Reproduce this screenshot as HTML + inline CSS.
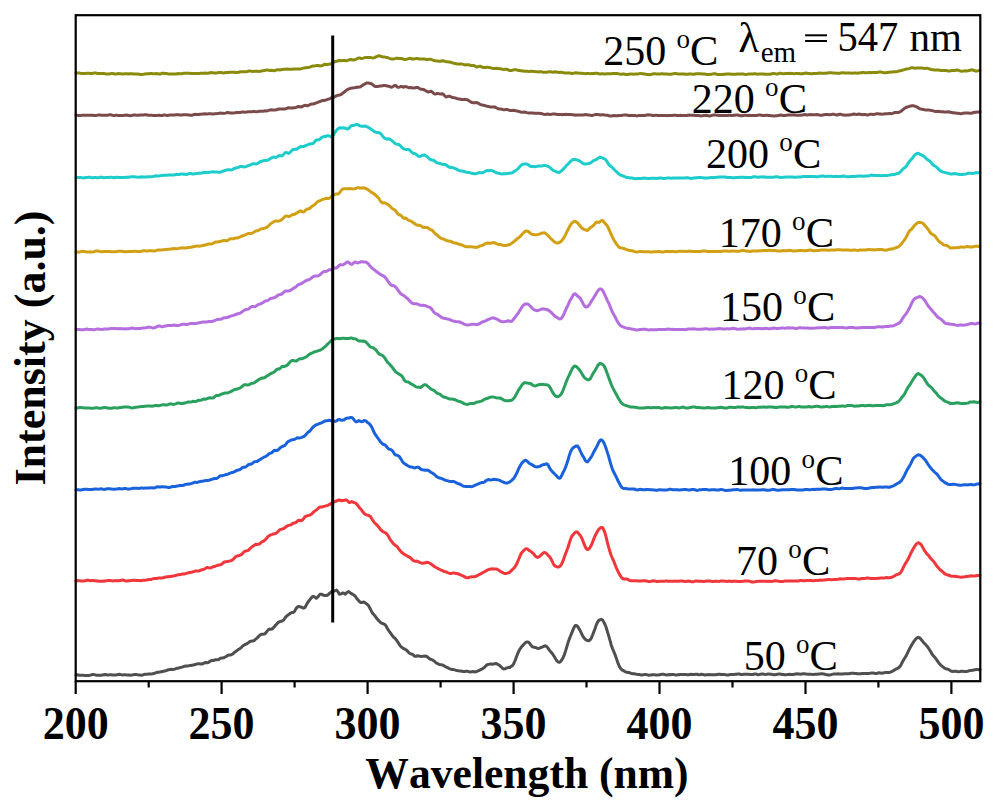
<!DOCTYPE html>
<html><head><meta charset="utf-8"><style>
html,body{margin:0;padding:0;background:#fff;}
svg{display:block;}
text{font-family:"Liberation Serif",serif;}
</style></head><body>
<svg width="993" height="803" viewBox="0 0 993 803">
<rect width="993" height="803" fill="#fff"/>
<g fill="none" stroke-width="3" stroke-linejoin="round" stroke-linecap="round">
<path d="M76.0,73.2 L77.2,73.1 L78.4,73.0 L79.7,73.1 L80.9,73.4 L82.1,73.6 L83.3,73.6 L84.5,73.6 L85.7,73.5 L87.0,73.3 L88.2,73.2 L89.4,73.3 L90.6,73.5 L91.8,73.5 L93.0,73.2 L94.3,72.9 L95.5,72.9 L96.7,73.2 L97.9,73.4 L99.1,73.6 L100.3,73.6 L101.6,73.6 L102.8,73.6 L104.0,73.6 L105.2,73.8 L106.4,73.9 L107.6,74.1 L108.9,74.1 L110.1,73.8 L111.3,73.6 L112.5,73.5 L113.7,73.7 L114.9,73.9 L116.2,73.9 L117.4,73.8 L118.6,73.6 L119.8,73.7 L121.0,73.8 L122.2,73.9 L123.5,73.9 L124.7,73.8 L125.9,73.8 L127.1,73.8 L128.3,73.9 L129.5,73.8 L130.8,73.7 L132.0,73.7 L133.2,73.9 L134.4,73.9 L135.6,73.9 L136.8,73.9 L138.1,73.9 L139.3,74.2 L140.5,74.4 L141.7,74.4 L142.9,74.4 L144.2,74.1 L145.4,73.9 L146.6,73.8 L147.8,73.8 L149.1,73.8 L150.3,73.6 L151.5,73.5 L152.7,73.7 L153.9,73.8 L155.2,73.7 L156.4,73.5 L157.6,73.7 L158.8,74.1 L160.1,74.1 L161.3,73.6 L162.5,73.2 L163.7,73.3 L164.9,73.5 L166.2,73.6 L167.4,73.8 L168.6,74.0 L169.8,74.0 L171.1,73.9 L172.3,74.0 L173.5,74.1 L174.7,74.1 L176.0,74.0 L177.2,73.7 L178.4,73.6 L179.6,73.7 L180.8,73.8 L182.1,73.7 L183.3,73.3 L184.5,73.2 L185.7,73.2 L187.0,73.3 L188.2,73.3 L189.4,73.3 L190.6,73.5 L191.8,73.5 L193.1,73.6 L194.3,73.5 L195.5,73.4 L196.7,73.4 L198.0,73.5 L199.2,73.4 L200.4,73.3 L201.6,73.2 L202.8,73.2 L204.1,73.2 L205.3,73.1 L206.5,73.2 L207.7,73.3 L208.9,73.1 L210.2,72.8 L211.4,72.6 L212.6,72.7 L213.8,72.9 L215.1,72.9 L216.3,72.9 L217.5,72.8 L218.7,72.5 L219.9,72.5 L221.2,72.5 L222.4,72.8 L223.6,72.9 L224.8,72.7 L226.0,72.6 L227.3,72.5 L228.5,72.4 L229.7,72.3 L230.9,72.3 L232.2,72.3 L233.4,72.3 L234.6,72.3 L235.8,72.4 L237.0,72.5 L238.3,72.3 L239.5,72.0 L240.7,71.7 L241.9,71.7 L243.1,71.8 L244.4,71.8 L245.6,71.8 L246.8,71.7 L248.0,71.3 L249.2,71.0 L250.5,71.1 L251.7,71.4 L252.9,71.4 L254.1,71.3 L255.4,71.3 L256.6,71.2 L257.8,71.3 L259.0,71.4 L260.2,71.3 L261.5,71.1 L262.7,70.7 L263.9,70.6 L265.1,70.4 L266.3,70.1 L267.6,70.1 L268.8,70.3 L270.0,70.4 L271.2,70.3 L272.5,70.4 L273.7,70.7 L274.9,70.5 L276.1,70.1 L277.3,69.8 L278.6,69.7 L279.8,70.0 L281.0,69.8 L282.3,69.6 L283.5,69.3 L284.8,69.3 L286.0,69.3 L287.3,69.1 L288.5,69.2 L289.8,69.3 L291.1,69.3 L292.3,69.2 L293.6,69.1 L294.8,69.0 L296.1,68.9 L297.3,69.0 L298.6,68.9 L299.8,68.9 L301.1,68.7 L302.4,68.4 L303.6,68.1 L304.9,67.8 L306.1,67.7 L307.4,67.5 L308.7,67.4 L309.9,67.1 L311.2,66.5 L312.5,66.1 L313.7,66.0 L315.0,65.9 L316.2,65.6 L317.5,65.4 L318.8,65.6 L320.0,66.0 L321.3,65.8 L322.6,65.3 L323.8,64.7 L325.1,64.3 L326.3,64.5 L327.6,64.4 L328.8,64.3 L330.1,64.0 L331.3,63.7 L332.6,62.9 L334.0,62.0 L335.4,61.5 L336.7,61.2 L338.0,60.8 L339.4,60.5 L340.7,60.7 L341.9,60.6 L343.2,60.4 L344.5,60.4 L345.7,60.7 L347.0,60.7 L348.3,60.2 L349.5,59.7 L350.8,59.6 L352.1,59.7 L353.4,59.9 L354.6,59.8 L355.9,59.3 L357.2,58.6 L358.4,58.0 L359.7,58.0 L360.9,58.4 L362.2,58.4 L363.4,58.1 L364.6,57.7 L365.9,57.6 L367.1,57.6 L368.4,57.5 L369.6,57.5 L370.9,57.6 L372.1,57.9 L373.4,57.9 L374.6,57.6 L375.9,56.9 L377.1,56.3 L378.4,55.8 L379.6,55.8 L380.9,56.3 L382.2,56.7 L383.6,57.0 L384.9,57.1 L386.2,57.4 L387.5,57.6 L388.9,58.2 L390.2,58.7 L391.5,59.0 L392.7,59.0 L393.9,58.9 L395.1,58.6 L396.4,58.2 L397.6,58.2 L398.8,58.4 L400.0,58.4 L401.2,58.5 L402.4,58.8 L403.6,59.3 L404.8,59.4 L406.1,59.4 L407.3,59.1 L408.5,58.7 L409.7,58.3 L410.9,58.5 L412.1,59.0 L413.3,59.1 L414.5,58.9 L415.8,58.6 L417.0,58.6 L418.2,58.7 L419.4,59.0 L420.6,59.0 L421.8,58.9 L423.1,59.1 L424.3,59.0 L425.5,59.2 L426.7,59.4 L427.9,59.5 L429.2,59.3 L430.4,59.2 L431.6,59.6 L432.8,60.1 L434.1,60.5 L435.3,60.8 L436.5,61.0 L437.7,61.1 L438.9,61.2 L440.2,61.3 L441.4,61.0 L442.6,60.7 L443.8,60.9 L445.0,61.4 L446.3,61.7 L447.5,61.8 L448.7,61.9 L449.9,62.0 L451.1,62.4 L452.4,62.8 L453.6,63.2 L454.8,63.4 L456.0,63.7 L457.2,64.0 L458.5,64.1 L459.7,64.0 L460.9,64.1 L462.1,64.1 L463.4,64.4 L464.6,64.8 L465.8,64.9 L467.0,64.8 L468.3,64.7 L469.5,65.0 L470.7,65.4 L472.0,65.6 L473.2,65.5 L474.4,65.8 L475.6,66.5 L476.9,67.0 L478.1,66.7 L479.3,66.3 L480.5,66.3 L481.8,66.9 L483.0,67.5 L484.2,67.6 L485.5,67.5 L486.7,67.3 L487.9,67.3 L489.1,67.6 L490.4,67.8 L491.6,68.1 L492.8,68.4 L494.1,68.6 L495.3,68.5 L496.5,68.2 L497.7,68.4 L499.0,68.7 L500.2,68.7 L501.4,68.9 L502.7,69.3 L503.9,69.6 L505.1,69.3 L506.3,69.2 L507.6,69.6 L508.8,70.2 L510.0,70.5 L511.3,70.4 L512.5,70.2 L513.7,69.8 L514.9,69.7 L516.2,69.8 L517.4,70.1 L518.6,70.5 L519.9,70.6 L521.1,70.7 L522.3,70.9 L523.5,71.1 L524.8,71.3 L526.0,71.3 L527.2,71.3 L528.4,71.4 L529.7,71.4 L530.9,71.3 L532.1,71.3 L533.4,71.4 L534.6,71.6 L535.8,71.7 L537.0,71.8 L538.3,71.9 L539.5,71.8 L540.7,71.8 L541.9,71.9 L543.1,72.2 L544.3,72.3 L545.6,72.3 L546.8,72.2 L548.0,71.9 L549.2,71.8 L550.4,71.8 L551.6,72.1 L552.8,72.2 L554.0,72.0 L555.3,71.8 L556.5,71.9 L557.7,72.3 L558.9,72.5 L560.1,72.3 L561.3,72.2 L562.5,72.5 L563.7,72.7 L565.0,72.9 L566.2,73.0 L567.4,73.1 L568.6,73.0 L569.8,73.0 L571.0,73.2 L572.2,73.4 L573.4,73.2 L574.7,72.9 L575.9,72.8 L577.1,72.9 L578.3,73.1 L579.5,73.2 L580.7,73.3 L581.9,73.3 L583.1,73.4 L584.4,73.6 L585.6,73.7 L586.8,73.5 L588.0,73.4 L589.2,73.6 L590.4,73.7 L591.7,73.6 L592.9,73.6 L594.1,73.5 L595.4,73.3 L596.6,73.3 L597.9,73.5 L599.1,73.8 L600.3,73.9 L601.6,73.8 L602.8,73.8 L604.0,73.9 L605.3,73.9 L606.5,73.8 L607.7,73.8 L609.0,73.8 L610.2,73.7 L611.5,73.7 L612.7,73.6 L613.9,73.6 L615.2,73.5 L616.4,73.5 L617.6,73.6 L618.9,73.9 L620.1,74.2 L621.3,74.2 L622.6,74.0 L623.8,74.0 L625.1,74.3 L626.3,74.5 L627.5,74.5 L628.8,74.3 L630.0,74.0 L631.2,73.9 L632.4,74.1 L633.6,74.2 L634.8,74.1 L636.0,74.0 L637.2,74.0 L638.4,73.9 L639.6,73.6 L640.8,73.6 L642.0,73.7 L643.2,73.8 L644.5,74.0 L645.7,74.2 L646.9,74.4 L648.1,74.5 L649.3,74.7 L650.5,74.6 L651.7,74.2 L652.9,73.9 L654.1,73.8 L655.3,73.8 L656.5,73.9 L657.7,74.1 L658.9,74.1 L660.1,73.9 L661.3,73.8 L662.5,73.8 L663.7,74.0 L664.9,74.1 L666.1,74.0 L667.3,74.1 L668.5,74.2 L669.8,74.3 L671.0,74.2 L672.2,74.1 L673.4,73.8 L674.6,73.6 L675.8,73.6 L677.0,73.7 L678.2,73.9 L679.4,74.0 L680.6,74.0 L681.8,74.0 L683.0,73.9 L684.2,74.0 L685.4,74.2 L686.6,74.3 L687.8,74.2 L689.0,74.0 L690.2,74.0 L691.4,74.1 L692.6,74.2 L693.8,74.2 L695.0,74.0 L696.2,73.8 L697.5,73.7 L698.7,73.7 L699.9,73.8 L701.1,73.8 L702.3,73.9 L703.5,74.1 L704.7,74.1 L705.9,74.3 L707.1,74.4 L708.3,74.4 L709.5,74.4 L710.7,74.3 L711.9,74.2 L713.1,73.8 L714.3,73.7 L715.5,73.8 L716.7,74.3 L717.9,74.6 L719.1,74.6 L720.3,74.5 L721.5,74.5 L722.8,74.4 L724.0,74.3 L725.2,74.2 L726.4,74.0 L727.6,74.0 L728.8,74.0 L730.0,74.0 L731.2,74.2 L732.4,74.3 L733.6,74.3 L734.8,74.2 L736.0,74.2 L737.2,74.1 L738.4,74.0 L739.6,73.9 L740.8,74.1 L742.0,74.1 L743.2,74.1 L744.4,74.3 L745.6,74.4 L746.9,74.4 L748.1,74.1 L749.3,74.0 L750.5,74.1 L751.7,74.1 L752.9,74.0 L754.1,73.8 L755.3,73.8 L756.5,74.0 L757.7,74.2 L758.9,74.1 L760.1,73.9 L761.3,73.9 L762.5,74.0 L763.7,74.1 L764.9,74.2 L766.1,74.2 L767.3,74.2 L768.6,74.2 L769.8,74.2 L771.0,74.0 L772.2,73.8 L773.4,73.6 L774.6,73.6 L775.8,73.9 L777.0,74.0 L778.2,73.8 L779.4,73.3 L780.6,73.2 L781.8,73.5 L783.0,73.7 L784.2,73.7 L785.4,73.6 L786.6,73.5 L787.8,73.4 L789.0,73.4 L790.3,73.3 L791.5,73.4 L792.7,73.6 L793.9,73.7 L795.1,73.6 L796.3,73.4 L797.5,73.4 L798.7,73.5 L799.9,73.8 L801.1,73.8 L802.3,73.7 L803.5,73.4 L804.7,73.2 L805.9,73.1 L807.1,73.2 L808.3,73.4 L809.5,73.6 L810.8,73.8 L812.0,73.8 L813.2,73.6 L814.4,73.6 L815.6,73.6 L816.8,73.4 L818.0,73.2 L819.2,73.1 L820.4,73.3 L821.6,73.3 L822.8,73.3 L824.0,73.3 L825.2,73.3 L826.4,73.2 L827.6,73.0 L828.8,72.8 L830.0,72.8 L831.2,72.8 L832.5,72.9 L833.7,72.9 L834.9,73.1 L836.1,73.2 L837.3,73.3 L838.5,73.3 L839.7,73.2 L840.9,73.0 L842.1,72.8 L843.3,72.8 L844.5,72.9 L845.7,72.9 L846.9,72.9 L848.1,72.9 L849.3,72.9 L850.5,73.1 L851.7,73.2 L852.9,73.1 L854.1,72.9 L855.4,72.9 L856.6,73.1 L857.8,73.2 L859.0,73.1 L860.2,72.8 L861.4,72.7 L862.6,72.5 L863.8,72.6 L865.0,72.7 L866.2,72.8 L867.4,72.7 L868.6,72.6 L869.8,72.6 L871.0,72.8 L872.2,72.6 L873.4,72.4 L874.6,72.4 L875.8,72.6 L877.0,72.5 L878.2,72.2 L879.4,71.9 L880.6,71.9 L881.9,72.3 L883.1,72.6 L884.3,72.7 L885.5,72.7 L886.7,72.6 L887.9,72.4 L889.1,72.2 L890.3,72.1 L891.5,72.1 L892.7,71.9 L893.9,71.7 L895.1,71.7 L896.4,71.7 L897.6,71.4 L898.9,71.0 L900.2,70.7 L901.4,70.5 L902.7,70.1 L904.0,69.7 L905.2,69.3 L906.5,69.1 L907.7,68.9 L909.0,68.6 L910.3,68.1 L911.5,67.7 L912.8,67.7 L914.1,68.0 L915.4,68.2 L916.8,68.1 L918.1,68.0 L919.4,67.9 L920.8,67.9 L922.1,67.9 L923.4,68.2 L924.7,68.4 L925.9,68.3 L927.2,68.3 L928.5,68.6 L929.7,69.0 L931.0,69.5 L932.2,69.7 L933.5,69.8 L934.8,70.0 L936.0,70.0 L937.3,70.0 L938.6,70.0 L939.8,70.3 L941.1,70.6 L942.3,70.6 L943.5,70.5 L944.7,70.5 L946.0,70.6 L947.2,70.7 L948.4,70.9 L949.6,70.9 L950.8,70.7 L952.0,70.6 L953.3,70.6 L954.5,70.6 L955.7,70.3 L956.9,70.0 L958.1,70.2 L959.3,70.6 L960.5,71.0 L961.8,71.2 L963.0,71.1 L964.2,70.9 L965.4,70.8 L966.6,70.9 L967.8,70.8 L969.1,70.6 L970.3,70.1 L971.5,69.8 L972.7,70.0 L973.9,70.4 L975.1,70.9 L976.4,71.0 L977.6,70.9 L978.8,70.6 L980.0,70.5" stroke="#8a8a0c"/>
<path d="M76.0,115.2 L77.2,115.3 L78.4,115.4 L79.6,115.4 L80.8,115.4 L82.0,115.3 L83.2,115.2 L84.4,115.2 L85.6,115.3 L86.9,115.3 L88.1,115.3 L89.3,115.3 L90.5,115.2 L91.7,115.2 L92.9,115.2 L94.1,115.4 L95.3,115.5 L96.5,115.4 L97.7,115.1 L98.9,115.0 L100.1,115.1 L101.3,115.2 L102.5,115.2 L103.7,115.2 L104.9,115.3 L106.1,115.3 L107.4,115.2 L108.6,115.0 L109.8,114.8 L111.0,114.8 L112.2,115.2 L113.4,115.4 L114.6,115.4 L115.8,115.3 L117.0,115.3 L118.2,115.4 L119.4,115.5 L120.6,115.5 L121.8,115.6 L123.0,115.4 L124.2,115.3 L125.4,115.2 L126.6,115.1 L127.8,115.3 L129.1,115.5 L130.3,115.7 L131.5,115.5 L132.7,115.2 L133.9,115.0 L135.1,115.1 L136.3,115.2 L137.5,115.2 L138.7,115.3 L139.9,115.1 L141.1,115.0 L142.3,115.0 L143.5,114.9 L144.7,114.8 L145.9,114.8 L147.1,115.0 L148.3,115.2 L149.6,115.2 L150.8,115.2 L152.0,115.3 L153.2,115.4 L154.4,115.5 L155.6,115.4 L156.8,115.4 L158.0,115.3 L159.2,115.3 L160.4,115.5 L161.6,115.6 L162.8,115.4 L164.0,115.0 L165.2,115.1 L166.4,115.4 L167.6,115.4 L168.8,115.2 L170.1,115.0 L171.3,115.0 L172.5,115.1 L173.7,115.0 L174.9,114.9 L176.1,114.7 L177.3,114.7 L178.5,114.7 L179.7,114.9 L180.9,115.0 L182.1,114.9 L183.3,114.8 L184.5,114.8 L185.7,114.8 L186.9,114.8 L188.1,114.9 L189.3,115.1 L190.5,115.3 L191.7,115.3 L192.9,115.0 L194.1,114.4 L195.3,114.3 L196.5,114.4 L197.7,114.5 L198.9,114.5 L200.1,114.3 L201.4,114.2 L202.6,114.1 L203.8,114.0 L205.0,113.8 L206.2,113.9 L207.4,113.9 L208.6,113.8 L209.8,113.7 L211.0,113.8 L212.2,113.9 L213.4,113.9 L214.6,113.8 L215.8,113.7 L217.0,113.6 L218.2,113.4 L219.4,113.3 L220.6,113.1 L221.8,113.2 L223.0,113.3 L224.2,113.4 L225.4,113.1 L226.6,112.7 L227.8,112.5 L229.1,112.7 L230.3,113.0 L231.5,113.0 L232.7,112.9 L233.9,112.9 L235.1,112.8 L236.3,112.6 L237.5,112.5 L238.7,112.5 L239.9,112.5 L241.1,112.3 L242.3,112.1 L243.6,112.1 L244.8,112.2 L246.0,112.1 L247.2,111.9 L248.4,111.8 L249.6,111.8 L250.8,111.8 L252.0,111.7 L253.2,111.6 L254.4,111.6 L255.6,111.7 L256.8,111.7 L258.0,111.5 L259.3,111.2 L260.5,111.2 L261.7,111.3 L262.9,111.3 L264.1,111.1 L265.3,110.8 L266.5,110.9 L267.7,110.7 L268.9,110.3 L270.1,109.9 L271.3,109.8 L272.5,110.0 L273.8,110.0 L275.0,110.0 L276.2,109.8 L277.4,109.5 L278.6,109.0 L279.8,109.0 L281.0,109.0 L282.3,108.9 L283.5,109.0 L284.8,108.9 L286.0,108.7 L287.3,108.1 L288.5,107.7 L289.8,107.9 L291.1,108.1 L292.3,108.0 L293.6,107.8 L294.8,107.8 L296.1,107.4 L297.3,106.8 L298.6,106.5 L299.8,106.7 L301.1,107.0 L302.4,106.5 L303.7,105.7 L304.9,105.3 L306.2,105.6 L307.5,105.8 L308.8,105.2 L310.1,104.5 L311.4,104.1 L312.6,103.9 L313.9,103.7 L315.2,103.3 L316.4,102.8 L317.7,102.4 L318.9,101.9 L320.2,101.5 L321.4,100.9 L322.6,100.5 L323.9,100.4 L325.1,100.3 L326.3,99.9 L327.6,99.4 L328.8,99.1 L330.1,98.5 L331.3,98.0 L332.6,97.7 L334.0,97.4 L335.4,96.4 L336.7,95.6 L338.0,95.3 L339.4,95.2 L340.7,94.7 L342.0,93.7 L343.3,92.8 L344.6,91.8 L345.8,90.7 L347.1,89.8 L348.4,89.1 L349.7,88.5 L351.0,88.2 L352.6,87.9 L354.1,87.8 L355.7,87.5 L356.9,87.1 L358.2,87.2 L359.4,87.1 L360.7,86.7 L361.9,85.7 L363.1,84.9 L364.4,84.2 L365.6,83.4 L366.9,82.9 L368.1,82.9 L369.4,83.2 L370.6,83.4 L372.0,84.1 L373.4,85.2 L374.8,86.2 L376.2,86.6 L377.6,86.5 L378.8,86.2 L380.0,86.1 L381.2,86.1 L382.5,85.8 L383.7,85.5 L384.9,85.6 L386.1,85.8 L387.3,86.0 L388.6,86.2 L389.8,86.5 L391.0,87.2 L392.2,87.0 L393.4,86.3 L394.6,85.5 L395.9,85.5 L397.1,86.9 L398.3,87.4 L399.5,87.1 L400.7,86.5 L402.0,86.6 L403.2,87.2 L404.5,86.8 L405.7,86.6 L407.0,86.9 L408.2,87.5 L409.4,87.8 L410.7,87.6 L411.9,87.7 L413.2,87.9 L414.4,88.0 L415.7,87.6 L416.9,87.4 L418.2,87.6 L419.4,88.6 L420.7,89.2 L421.9,89.3 L423.2,89.5 L424.5,90.0 L425.8,90.8 L427.0,91.6 L428.3,92.1 L429.6,91.6 L430.9,91.2 L432.1,91.8 L433.4,93.2 L434.7,94.0 L435.9,93.9 L437.2,93.5 L438.4,93.6 L439.7,93.9 L440.9,93.9 L442.2,93.7 L443.4,94.3 L444.7,95.9 L445.9,96.9 L447.2,96.7 L448.4,96.2 L449.7,96.2 L450.9,96.8 L452.2,97.4 L453.4,97.6 L454.7,97.9 L455.9,98.1 L457.2,98.6 L458.4,98.9 L459.7,99.0 L460.9,99.4 L462.1,99.6 L463.4,99.6 L464.6,99.3 L465.9,99.4 L467.1,99.7 L468.4,100.4 L469.6,101.3 L470.9,102.0 L472.1,102.5 L473.4,102.7 L474.6,102.7 L475.9,102.6 L477.1,102.7 L478.4,103.3 L479.6,104.1 L480.9,104.7 L482.1,104.9 L483.4,105.2 L484.6,105.5 L485.9,105.9 L487.1,106.3 L488.3,106.5 L489.6,106.8 L490.8,107.0 L492.1,107.1 L493.3,107.0 L494.6,107.0 L495.8,107.5 L497.1,108.2 L498.3,108.8 L499.6,109.0 L500.8,109.1 L502.1,109.3 L503.3,109.7 L504.6,109.7 L505.8,109.5 L507.1,109.5 L508.3,109.9 L509.6,110.4 L510.8,110.5 L512.1,110.4 L513.3,110.3 L514.5,110.4 L515.8,110.7 L517.0,111.1 L518.2,111.3 L519.4,111.6 L520.7,112.0 L521.9,112.3 L523.1,112.2 L524.4,112.1 L525.6,112.2 L526.8,112.6 L528.0,112.9 L529.3,113.0 L530.5,113.0 L531.7,113.0 L533.0,113.0 L534.2,113.2 L535.4,113.3 L536.6,113.3 L537.9,113.2 L539.1,113.3 L540.3,113.5 L541.5,113.6 L542.8,114.0 L544.0,114.3 L545.2,114.5 L546.5,114.2 L547.7,114.1 L548.9,114.2 L550.1,114.4 L551.4,114.3 L552.6,114.1 L553.8,114.1 L555.0,114.1 L556.3,114.3 L557.5,114.5 L558.7,114.6 L559.9,114.6 L561.1,114.6 L562.4,114.7 L563.6,114.5 L564.8,114.4 L566.0,114.3 L567.2,114.4 L568.5,114.4 L569.7,114.5 L570.9,114.6 L572.1,114.7 L573.3,114.8 L574.6,115.0 L575.8,115.2 L577.0,115.1 L578.2,115.0 L579.4,115.0 L580.7,115.0 L581.9,115.1 L583.1,114.9 L584.3,114.7 L585.5,114.6 L586.8,114.8 L588.0,115.0 L589.2,115.0 L590.4,115.3 L591.7,115.4 L592.9,115.2 L594.1,114.9 L595.4,114.5 L596.6,114.4 L597.9,114.5 L599.1,114.7 L600.3,114.9 L601.6,114.8 L602.8,114.7 L604.0,114.9 L605.3,115.1 L606.5,115.2 L607.7,115.3 L609.0,115.7 L610.2,115.9 L611.5,115.9 L612.7,115.7 L613.9,115.6 L615.2,115.8 L616.4,115.8 L617.6,115.7 L618.9,115.5 L620.1,115.5 L621.3,115.4 L622.6,115.2 L623.8,115.1 L625.1,114.9 L626.3,115.1 L627.5,115.3 L628.8,115.5 L630.0,115.5 L631.2,115.5 L632.4,115.5 L633.6,115.5 L634.8,115.5 L636.0,115.8 L637.2,115.9 L638.4,115.6 L639.6,115.5 L640.8,115.5 L642.0,115.6 L643.2,115.6 L644.5,115.5 L645.7,115.2 L646.9,115.0 L648.1,114.8 L649.3,115.0 L650.5,115.1 L651.7,115.3 L652.9,115.5 L654.1,115.4 L655.3,115.3 L656.5,115.3 L657.7,115.5 L658.9,115.6 L660.1,115.6 L661.3,115.5 L662.5,115.6 L663.7,115.6 L664.9,115.6 L666.1,115.6 L667.3,115.7 L668.5,115.5 L669.8,115.4 L671.0,115.5 L672.2,115.4 L673.4,115.3 L674.6,115.2 L675.8,115.3 L677.0,115.5 L678.2,115.4 L679.4,115.4 L680.6,115.3 L681.8,115.4 L683.0,115.4 L684.2,115.4 L685.4,115.4 L686.6,115.5 L687.8,115.3 L689.0,115.1 L690.2,115.2 L691.4,115.2 L692.6,115.2 L693.8,115.2 L695.0,115.4 L696.2,115.6 L697.5,115.6 L698.7,115.5 L699.9,115.7 L701.1,115.9 L702.3,115.8 L703.5,115.6 L704.7,115.4 L705.9,115.3 L707.1,115.4 L708.3,115.7 L709.5,115.9 L710.7,115.8 L711.9,115.4 L713.1,115.1 L714.3,114.9 L715.5,115.0 L716.7,115.2 L717.9,115.3 L719.1,115.5 L720.3,115.5 L721.5,115.4 L722.8,115.4 L724.0,115.5 L725.2,115.6 L726.4,115.6 L727.6,115.4 L728.8,115.2 L730.0,115.3 L731.2,115.6 L732.4,115.6 L733.6,115.3 L734.8,115.2 L736.0,115.1 L737.2,115.1 L738.4,115.2 L739.6,115.4 L740.8,115.8 L742.0,115.8 L743.2,115.5 L744.4,115.2 L745.6,115.3 L746.9,115.5 L748.1,115.5 L749.3,115.3 L750.5,115.4 L751.7,115.6 L752.9,115.6 L754.1,115.5 L755.3,115.4 L756.5,115.5 L757.7,115.3 L758.9,115.1 L760.1,115.1 L761.3,115.3 L762.5,115.5 L763.7,115.5 L764.9,115.4 L766.1,115.3 L767.3,115.3 L768.6,115.5 L769.8,115.6 L771.0,115.7 L772.2,115.8 L773.4,115.9 L774.6,115.9 L775.8,115.8 L777.0,115.7 L778.2,115.6 L779.4,115.3 L780.6,115.1 L781.8,115.3 L783.0,115.5 L784.2,115.6 L785.4,115.5 L786.6,115.3 L787.8,115.1 L789.0,115.1 L790.3,115.1 L791.5,115.1 L792.7,115.0 L793.9,114.8 L795.1,114.9 L796.3,115.2 L797.5,115.3 L798.7,115.2 L799.9,115.2 L801.1,115.2 L802.3,115.1 L803.5,114.8 L804.7,114.6 L805.9,114.8 L807.1,114.9 L808.3,114.8 L809.5,114.7 L810.8,114.6 L812.0,114.7 L813.2,114.8 L814.4,114.8 L815.6,114.7 L816.8,114.6 L818.0,114.8 L819.2,115.1 L820.4,115.3 L821.6,115.3 L822.8,115.0 L824.0,114.7 L825.2,114.5 L826.4,114.5 L827.6,114.6 L828.8,114.7 L830.0,114.7 L831.2,114.6 L832.5,114.3 L833.7,114.3 L834.9,114.6 L836.1,114.9 L837.3,115.0 L838.5,114.5 L839.7,114.2 L840.9,114.3 L842.1,114.7 L843.3,115.0 L844.5,115.1 L845.7,115.2 L846.9,115.1 L848.1,114.9 L849.3,114.9 L850.5,114.7 L851.7,114.5 L852.9,114.2 L854.1,114.1 L855.4,114.3 L856.6,114.4 L857.8,114.2 L859.0,114.1 L860.2,114.2 L861.4,114.6 L862.6,114.7 L863.8,114.5 L865.0,114.6 L866.2,114.8 L867.4,115.0 L868.6,114.7 L869.8,114.3 L871.0,114.2 L872.2,114.3 L873.4,114.4 L874.6,114.2 L875.8,113.9 L877.0,113.8 L878.2,113.8 L879.4,113.9 L880.6,114.0 L881.9,114.2 L883.1,114.1 L884.3,113.9 L885.5,113.7 L886.7,113.7 L887.9,113.7 L889.1,113.5 L890.3,113.6 L891.5,113.7 L892.7,113.4 L893.9,112.8 L895.1,112.5 L896.3,112.5 L897.5,112.6 L898.7,112.4 L900.0,111.8 L901.2,111.1 L902.4,110.1 L903.6,109.1 L904.8,108.1 L906.0,107.5 L907.2,107.0 L908.5,106.6 L909.7,106.2 L910.9,106.0 L912.1,105.8 L913.4,105.8 L914.6,106.1 L915.9,106.5 L917.1,107.1 L918.4,107.9 L919.6,108.6 L920.9,109.1 L922.1,109.3 L923.4,109.5 L924.6,109.8 L925.9,109.9 L927.1,109.9 L928.3,110.0 L929.6,110.1 L930.8,110.4 L932.0,110.6 L933.3,110.9 L934.5,111.2 L935.8,111.4 L937.0,111.4 L938.2,111.3 L939.5,111.5 L940.7,111.7 L941.9,111.7 L943.2,111.8 L944.4,112.0 L945.6,112.1 L946.9,111.9 L948.1,111.8 L949.4,112.0 L950.6,112.3 L951.9,112.6 L953.2,112.8 L954.4,113.0 L955.7,113.1 L957.0,113.2 L958.2,113.3 L959.5,113.5 L960.7,113.7 L962.0,113.5 L963.3,113.2 L964.5,113.0 L965.8,113.1 L967.1,113.1 L968.4,113.1 L969.7,113.3 L971.0,113.3 L972.3,113.0 L973.5,112.5 L974.8,112.2 L976.1,112.2 L977.4,112.1 L978.7,112.0 L980.0,111.9" stroke="#7b4a4a"/>
<path d="M76.0,177.8 L77.2,177.6 L78.4,177.5 L79.7,177.4 L80.9,177.5 L82.1,177.8 L83.3,177.9 L84.6,177.7 L85.8,177.5 L87.0,177.4 L88.2,177.3 L89.5,177.3 L90.7,177.6 L91.9,177.8 L93.1,177.7 L94.4,177.5 L95.6,177.5 L96.8,177.7 L98.0,177.7 L99.3,177.5 L100.5,177.1 L101.7,177.2 L102.9,177.5 L104.1,177.7 L105.4,177.6 L106.6,177.5 L107.8,177.6 L109.0,177.4 L110.3,177.2 L111.5,177.3 L112.7,177.5 L113.9,177.7 L115.2,177.5 L116.4,177.3 L117.6,177.3 L118.8,177.4 L120.1,177.6 L121.3,177.5 L122.5,177.5 L123.7,177.5 L125.0,177.5 L126.2,177.3 L127.4,177.2 L128.6,177.2 L129.8,176.9 L131.0,176.8 L132.2,176.8 L133.4,176.8 L134.6,176.8 L135.8,176.9 L137.0,177.1 L138.2,177.2 L139.4,177.2 L140.6,176.9 L141.8,176.8 L143.0,176.9 L144.2,177.1 L145.4,177.1 L146.6,176.9 L147.8,176.8 L149.0,176.8 L150.2,176.8 L151.4,176.7 L152.6,176.6 L153.9,176.4 L155.1,176.0 L156.3,175.8 L157.5,175.9 L158.7,175.9 L159.9,175.7 L161.1,175.4 L162.3,175.4 L163.5,175.3 L164.7,175.3 L165.9,175.2 L167.1,175.2 L168.3,175.1 L169.5,175.1 L170.7,175.1 L171.9,175.1 L173.1,175.1 L174.3,174.9 L175.5,174.6 L176.7,174.3 L177.9,174.4 L179.1,174.5 L180.3,174.3 L181.5,174.1 L182.7,174.1 L183.9,174.3 L185.1,174.3 L186.3,174.4 L187.5,174.2 L188.8,173.7 L190.0,173.5 L191.2,173.6 L192.4,174.0 L193.6,174.0 L194.8,173.8 L196.0,173.5 L197.2,173.4 L198.4,173.2 L199.6,173.3 L200.8,173.3 L202.0,173.0 L203.3,172.5 L204.5,172.2 L205.7,172.4 L206.9,172.6 L208.1,172.5 L209.3,172.2 L210.5,172.1 L211.8,171.9 L213.0,171.8 L214.3,172.0 L215.5,172.0 L216.8,172.1 L218.0,172.2 L219.3,172.2 L220.6,172.2 L221.8,171.7 L223.1,171.2 L224.3,170.7 L225.6,170.3 L226.8,170.0 L228.1,169.7 L229.3,169.8 L230.6,169.9 L231.9,169.8 L233.1,169.1 L234.4,168.4 L235.7,168.0 L236.9,167.8 L238.2,167.4 L239.4,166.8 L240.7,166.4 L242.0,166.4 L243.2,166.8 L244.5,167.0 L245.8,166.6 L247.0,166.1 L248.3,165.6 L249.5,165.3 L250.8,164.7 L252.1,164.0 L253.3,163.8 L254.6,163.8 L255.8,164.0 L257.1,163.7 L258.3,162.9 L259.6,162.0 L260.9,161.5 L262.1,161.1 L263.4,160.7 L264.6,160.5 L265.9,160.6 L267.1,160.5 L268.4,159.8 L269.6,159.1 L270.9,158.3 L272.2,157.6 L273.4,157.0 L274.7,157.3 L275.9,157.5 L277.2,156.8 L278.5,155.7 L279.7,155.5 L281.0,155.9 L282.3,155.8 L283.5,154.5 L284.8,152.9 L286.1,152.4 L287.3,153.0 L288.6,153.4 L289.8,152.6 L291.1,151.3 L292.4,150.0 L293.6,149.5 L294.9,149.2 L296.1,149.2 L297.4,148.8 L298.6,147.7 L299.9,147.0 L301.1,146.5 L302.4,146.7 L303.7,146.6 L304.9,145.9 L306.2,145.3 L307.4,144.9 L308.7,144.4 L309.9,144.0 L311.2,143.7 L312.5,143.7 L313.8,142.9 L315.0,141.1 L316.3,140.0 L317.6,139.9 L318.9,139.8 L320.2,138.9 L321.5,137.6 L322.7,137.0 L324.0,136.6 L325.3,136.5 L326.6,136.0 L328.0,135.6 L329.3,136.0 L330.6,136.7 L332.0,136.3 L333.3,134.9 L334.7,132.8 L336.1,130.8 L337.5,129.3 L338.9,128.2 L340.3,127.8 L341.7,127.9 L343.1,127.8 L344.5,127.9 L345.9,128.5 L347.3,129.1 L348.5,128.7 L349.7,127.2 L350.9,126.0 L352.1,125.5 L353.3,125.5 L354.5,125.2 L355.7,124.5 L356.9,124.3 L358.1,124.9 L359.4,125.6 L360.7,126.1 L362.0,126.3 L363.3,126.3 L364.6,126.1 L365.9,126.3 L367.2,126.8 L368.5,127.4 L369.8,128.4 L371.1,129.2 L372.4,130.1 L373.7,131.2 L375.0,132.0 L376.3,132.4 L377.6,132.4 L378.9,132.6 L380.2,133.3 L381.4,134.3 L382.7,136.1 L384.0,137.7 L385.3,138.5 L386.6,139.2 L387.9,138.7 L389.2,138.9 L390.5,139.6 L391.8,140.6 L393.1,141.7 L394.4,142.8 L395.7,143.9 L397.0,144.3 L398.3,144.3 L399.5,145.1 L400.8,146.2 L402.1,147.7 L403.4,148.6 L404.7,149.3 L405.9,149.4 L407.2,149.4 L408.5,149.6 L409.8,150.3 L411.0,151.5 L412.3,152.7 L413.6,153.4 L414.8,153.5 L416.1,154.2 L417.3,155.4 L418.5,156.3 L419.7,156.5 L420.9,156.1 L422.2,155.4 L423.4,155.0 L424.6,155.1 L425.8,155.8 L427.0,156.5 L428.3,157.8 L429.6,159.1 L430.9,159.7 L432.2,160.0 L433.5,160.3 L434.8,161.3 L436.1,162.3 L437.4,162.9 L438.6,163.2 L439.9,163.4 L441.2,163.9 L442.5,164.4 L443.7,164.5 L445.0,164.5 L446.3,165.0 L447.5,166.0 L448.8,167.0 L450.0,167.4 L451.2,167.3 L452.4,167.6 L453.6,168.0 L454.8,168.4 L456.1,168.9 L457.3,169.6 L458.5,170.3 L459.7,170.7 L460.9,170.9 L462.1,171.0 L463.3,171.2 L464.5,171.6 L465.7,172.0 L466.9,172.2 L468.1,172.4 L469.3,172.5 L470.5,172.9 L471.7,173.3 L472.9,173.6 L474.1,173.7 L475.4,173.8 L476.6,173.6 L477.9,173.0 L479.1,172.6 L480.4,172.7 L481.6,172.8 L482.9,172.6 L484.1,172.0 L485.4,171.2 L486.6,170.7 L487.9,170.6 L489.1,170.7 L490.4,170.6 L491.7,170.6 L493.0,171.0 L494.3,171.7 L495.6,172.3 L496.9,172.8 L498.2,173.1 L499.5,173.5 L500.7,173.8 L501.9,173.9 L503.1,173.7 L504.3,173.7 L505.6,173.7 L506.8,173.5 L508.0,173.3 L509.2,173.3 L510.4,173.2 L511.8,172.9 L513.2,172.2 L514.5,171.4 L515.9,170.4 L517.3,169.4 L518.6,168.1 L519.9,166.6 L521.2,165.2 L522.5,164.3 L523.8,163.9 L525.1,164.0 L526.3,164.0 L527.5,164.3 L528.7,165.1 L529.9,166.0 L531.2,166.5 L532.4,166.4 L533.6,166.5 L534.8,166.7 L536.0,166.6 L537.3,166.3 L538.7,166.1 L540.0,166.0 L541.4,165.9 L542.7,165.8 L544.1,165.5 L545.4,165.4 L546.6,165.8 L547.9,166.3 L549.1,166.9 L550.4,167.9 L551.6,169.1 L552.9,170.2 L554.1,170.8 L555.4,171.3 L556.6,171.8 L557.9,172.3 L559.1,172.4 L560.4,171.7 L561.6,170.7 L562.8,169.6 L564.0,168.4 L565.3,167.0 L566.5,165.4 L567.7,164.3 L569.0,163.1 L570.2,161.8 L571.4,160.6 L572.6,159.7 L573.9,159.4 L575.1,159.4 L576.3,159.7 L577.5,160.1 L578.7,160.5 L579.9,161.2 L581.2,162.1 L582.4,163.0 L583.6,163.7 L584.8,164.0 L586.0,164.0 L587.3,163.8 L588.5,163.6 L589.8,163.3 L591.0,162.6 L592.3,161.6 L593.5,160.7 L594.8,160.2 L596.1,159.6 L597.3,158.9 L598.6,157.8 L599.8,157.2 L601.1,157.4 L602.4,158.0 L603.7,158.5 L605.0,159.1 L606.3,160.5 L607.6,162.6 L608.9,164.6 L610.2,165.9 L611.5,166.8 L612.8,168.1 L614.1,169.4 L615.4,170.7 L616.6,171.9 L617.9,173.1 L619.1,174.3 L620.4,175.0 L621.6,175.4 L622.9,175.9 L624.1,176.4 L625.4,177.0 L626.6,177.4 L627.9,177.6 L629.1,177.8 L630.4,178.0 L631.6,178.1 L632.9,178.3 L634.1,178.6 L635.4,178.7 L636.6,178.6 L637.9,178.4 L639.1,178.4 L640.3,178.5 L641.5,178.5 L642.7,178.3 L643.9,178.1 L645.2,178.2 L646.4,178.3 L647.6,178.4 L648.8,178.4 L650.0,178.4 L651.2,178.3 L652.4,178.2 L653.6,178.2 L654.8,178.3 L656.1,178.4 L657.3,178.3 L658.5,178.2 L659.7,178.0 L660.9,178.0 L662.1,178.2 L663.3,178.5 L664.5,178.4 L665.7,178.3 L667.0,178.1 L668.2,178.0 L669.4,177.9 L670.6,178.1 L671.8,178.2 L673.0,178.0 L674.2,177.9 L675.4,178.0 L676.6,178.1 L677.9,178.1 L679.1,178.0 L680.3,177.9 L681.5,177.9 L682.7,177.9 L683.9,177.9 L685.1,177.9 L686.3,177.7 L687.5,177.7 L688.8,177.9 L690.0,178.2 L691.2,178.4 L692.4,178.2 L693.6,178.0 L694.8,177.9 L696.0,177.8 L697.2,177.7 L698.5,177.6 L699.7,177.6 L700.9,177.6 L702.1,177.7 L703.3,177.8 L704.5,178.0 L705.7,178.0 L706.9,178.0 L708.1,177.9 L709.4,177.8 L710.6,177.6 L711.8,177.4 L713.0,177.4 L714.2,177.4 L715.4,177.4 L716.6,177.3 L717.8,177.3 L719.0,177.1 L720.3,176.9 L721.5,176.9 L722.7,177.1 L723.9,177.1 L725.1,177.1 L726.3,177.2 L727.5,177.4 L728.7,177.4 L729.9,177.4 L731.2,177.5 L732.4,177.7 L733.6,177.8 L734.8,177.7 L736.0,177.5 L737.2,177.4 L738.4,177.4 L739.6,177.3 L740.8,177.3 L742.0,177.3 L743.2,177.3 L744.4,177.4 L745.6,177.3 L746.9,177.4 L748.1,177.5 L749.3,177.5 L750.5,177.6 L751.7,177.4 L752.9,177.0 L754.1,176.8 L755.3,176.8 L756.5,177.1 L757.7,177.3 L758.9,177.2 L760.1,177.0 L761.3,176.9 L762.5,176.8 L763.7,176.9 L764.9,177.1 L766.1,177.3 L767.3,177.3 L768.6,177.2 L769.8,177.2 L771.0,177.3 L772.2,177.3 L773.4,177.2 L774.6,176.9 L775.8,176.8 L777.0,176.7 L778.2,177.0 L779.4,177.3 L780.6,177.5 L781.8,177.4 L783.0,177.3 L784.2,177.2 L785.4,177.1 L786.6,177.0 L787.8,177.1 L789.0,177.0 L790.3,176.9 L791.5,176.9 L792.7,177.0 L793.9,177.3 L795.1,177.2 L796.3,177.2 L797.5,177.1 L798.7,177.0 L799.9,177.0 L801.1,176.9 L802.3,176.6 L803.5,176.5 L804.7,176.5 L805.9,176.6 L807.1,176.5 L808.3,176.4 L809.5,176.4 L810.8,176.5 L812.0,176.5 L813.2,176.5 L814.4,176.6 L815.6,176.7 L816.8,176.7 L818.0,176.7 L819.2,176.6 L820.4,176.3 L821.6,176.1 L822.8,176.1 L824.0,176.3 L825.2,176.5 L826.4,176.4 L827.6,176.3 L828.8,176.2 L830.0,176.2 L831.2,176.3 L832.5,176.4 L833.7,176.5 L834.9,176.4 L836.1,176.3 L837.3,176.4 L838.5,176.5 L839.7,176.6 L840.9,176.5 L842.1,176.2 L843.3,176.0 L844.6,176.2 L845.8,176.5 L847.0,176.7 L848.3,176.8 L849.5,176.7 L850.7,176.5 L852.0,176.4 L853.2,176.4 L854.4,176.4 L855.7,176.3 L856.9,176.2 L858.1,176.2 L859.4,176.0 L860.6,176.0 L861.8,176.0 L863.1,176.2 L864.3,176.2 L865.5,175.9 L866.8,175.9 L868.0,176.0 L869.2,175.8 L870.5,175.3 L871.7,175.0 L872.9,175.2 L874.2,175.5 L875.4,175.6 L876.6,175.5 L877.9,175.5 L879.1,175.6 L880.3,175.7 L881.6,175.8 L882.8,175.6 L884.1,175.5 L885.5,175.5 L886.8,175.5 L888.1,175.4 L889.5,175.1 L890.8,174.8 L892.1,174.7 L893.5,174.6 L894.8,174.4 L896.1,173.9 L897.5,173.5 L898.8,173.2 L900.0,172.3 L901.2,170.9 L902.4,169.5 L903.6,168.4 L904.8,167.7 L906.0,166.5 L907.2,164.8 L908.4,162.8 L909.6,161.2 L910.8,159.9 L912.3,158.4 L913.8,156.2 L915.3,154.5 L916.8,153.5 L918.3,153.2 L920.0,154.3 L921.8,155.1 L923.1,155.8 L924.5,156.7 L925.8,158.1 L927.0,159.3 L928.3,160.2 L929.5,160.8 L930.8,162.1 L932.0,163.8 L933.3,165.2 L934.5,165.8 L935.8,166.5 L937.0,167.6 L938.3,168.9 L939.5,170.1 L940.8,171.0 L942.0,171.7 L943.3,172.1 L944.5,172.4 L945.8,172.7 L947.0,172.9 L948.2,173.3 L949.4,173.6 L950.6,174.1 L951.8,174.1 L953.2,173.8 L954.5,173.6 L955.9,173.7 L957.3,174.1 L958.6,174.3 L960.0,174.5 L961.2,174.5 L962.5,174.4 L963.8,174.3 L965.0,174.2 L966.2,173.9 L967.5,173.5 L968.8,173.3 L970.0,173.3 L971.2,173.3 L972.5,173.4 L973.8,173.3 L975.0,173.0 L976.2,172.8 L977.5,172.7 L978.8,172.8 L980.0,172.7" stroke="#1ecccc"/>
<path d="M76.0,251.9 L77.2,251.9 L78.4,252.2 L79.6,252.1 L80.8,251.7 L82.0,251.3 L83.2,251.3 L84.5,251.6 L85.7,251.8 L86.9,252.0 L88.1,252.0 L89.3,251.9 L90.5,251.8 L91.7,251.9 L92.9,252.0 L94.1,251.7 L95.3,251.2 L96.5,250.9 L97.7,250.9 L98.9,251.2 L100.2,251.6 L101.4,251.8 L102.6,251.8 L103.8,251.6 L105.0,251.6 L106.2,251.6 L107.4,251.6 L108.6,251.5 L109.8,251.6 L111.0,251.7 L112.2,251.7 L113.4,251.7 L114.6,251.7 L115.8,251.7 L117.1,251.5 L118.3,251.3 L119.5,251.3 L120.7,251.3 L121.9,251.3 L123.1,251.5 L124.3,251.8 L125.5,251.8 L126.7,251.7 L127.9,251.6 L129.1,251.6 L130.3,251.6 L131.5,251.5 L132.8,251.4 L134.0,251.2 L135.2,251.2 L136.4,251.4 L137.6,251.6 L138.8,251.6 L140.0,251.5 L141.2,251.3 L142.4,251.0 L143.6,250.8 L144.8,250.8 L146.0,250.9 L147.2,250.9 L148.5,250.7 L149.7,250.7 L150.9,250.7 L152.1,250.8 L153.3,251.0 L154.5,251.1 L155.7,250.7 L156.9,250.3 L158.1,250.1 L159.3,250.0 L160.5,249.9 L161.7,249.9 L163.0,249.8 L164.2,249.7 L165.4,249.5 L166.6,249.4 L167.8,249.3 L169.0,249.2 L170.2,249.1 L171.4,248.9 L172.6,248.7 L173.8,248.6 L175.0,248.7 L176.2,248.8 L177.4,248.7 L178.7,248.4 L179.9,248.1 L181.1,248.0 L182.3,247.8 L183.5,247.9 L184.7,248.0 L185.9,248.0 L187.1,247.8 L188.3,247.6 L189.5,247.6 L190.7,247.3 L191.9,246.9 L193.2,246.7 L194.4,246.5 L195.6,246.3 L196.8,246.1 L198.0,246.1 L199.2,246.2 L200.4,246.0 L201.6,245.7 L202.8,245.6 L204.0,245.3 L205.2,245.1 L206.4,244.6 L207.7,244.2 L208.9,244.0 L210.1,244.0 L211.3,244.1 L212.5,243.7 L213.7,243.0 L214.9,242.3 L216.1,242.0 L217.3,241.9 L218.6,241.8 L219.8,241.5 L221.0,241.2 L222.2,240.9 L223.4,240.5 L224.6,240.4 L225.8,240.7 L227.1,240.7 L228.3,240.0 L229.6,239.1 L230.8,238.7 L232.1,238.7 L233.3,238.7 L234.6,238.3 L235.8,238.1 L237.1,237.9 L238.3,237.7 L239.6,237.2 L240.8,236.5 L242.1,236.0 L243.3,235.6 L244.6,235.2 L245.8,234.6 L247.1,234.0 L248.3,233.6 L249.6,233.4 L250.8,233.4 L252.1,233.2 L253.3,232.5 L254.6,231.7 L255.8,231.0 L257.1,230.8 L258.3,230.4 L259.6,229.7 L260.9,229.0 L262.1,228.7 L263.4,228.6 L264.6,228.2 L265.9,227.7 L267.1,227.1 L268.4,226.1 L269.6,224.8 L270.9,223.5 L272.2,222.8 L273.4,222.0 L274.7,221.3 L275.9,221.0 L277.2,221.1 L278.5,221.2 L279.7,220.8 L281.0,220.1 L282.3,219.2 L283.5,218.0 L284.8,216.6 L286.1,216.1 L287.3,216.0 L288.6,216.6 L289.8,216.3 L291.1,215.5 L292.3,214.8 L293.6,214.5 L294.8,214.2 L296.1,213.4 L297.3,212.8 L298.5,211.9 L299.8,211.1 L301.0,211.1 L302.2,211.8 L303.5,212.1 L304.7,211.1 L306.0,209.7 L307.2,209.0 L308.5,208.9 L309.8,208.3 L311.0,207.2 L312.3,206.1 L313.6,205.3 L314.9,204.4 L316.2,203.0 L317.5,201.7 L318.7,201.1 L320.0,200.7 L321.3,200.0 L322.6,199.4 L323.8,199.1 L325.1,198.6 L326.3,198.3 L327.6,198.4 L328.8,198.5 L330.1,197.8 L331.3,196.8 L332.6,195.8 L334.0,194.8 L335.4,194.1 L336.7,194.0 L338.0,194.0 L339.4,192.8 L340.9,190.8 L342.5,189.1 L343.9,188.7 L345.2,188.7 L346.6,188.8 L347.9,188.8 L349.3,188.6 L350.6,188.7 L352.0,188.8 L353.3,188.9 L354.6,188.8 L355.9,188.5 L357.2,187.8 L358.4,187.7 L359.7,187.9 L361.0,187.9 L362.3,187.9 L363.6,187.8 L364.9,188.2 L366.2,188.6 L367.5,189.4 L368.8,190.2 L370.0,191.2 L371.3,192.2 L372.6,192.9 L373.9,193.8 L375.1,194.7 L376.4,195.9 L377.6,197.1 L378.9,198.6 L380.1,200.6 L381.4,202.2 L382.6,202.9 L383.9,202.7 L385.2,203.2 L386.5,203.7 L387.9,204.5 L389.2,205.5 L390.5,206.8 L391.8,208.1 L393.0,209.0 L394.2,209.6 L395.4,210.5 L396.6,212.1 L397.8,213.9 L399.0,214.8 L400.2,215.0 L401.4,215.8 L402.6,217.4 L403.8,218.3 L405.0,218.0 L406.2,218.3 L407.4,219.4 L408.6,220.4 L409.8,220.7 L411.1,221.2 L412.4,222.0 L413.8,223.1 L415.1,224.0 L416.4,224.8 L417.7,225.3 L419.1,225.2 L420.4,225.7 L421.7,226.3 L422.9,227.2 L424.2,227.6 L425.4,227.6 L426.7,227.5 L427.9,227.8 L429.2,228.9 L430.4,229.6 L431.7,230.0 L433.0,231.1 L434.4,232.9 L435.7,234.1 L437.0,234.9 L438.3,236.1 L439.7,237.4 L441.0,238.2 L442.3,238.6 L443.6,239.2 L445.0,239.8 L446.3,240.5 L447.6,240.8 L448.9,241.1 L450.1,241.3 L451.4,241.6 L452.6,242.3 L453.9,242.8 L455.1,243.1 L456.4,243.3 L457.6,243.6 L458.9,244.2 L460.1,244.4 L461.4,244.8 L462.6,245.3 L463.9,245.9 L465.1,246.5 L466.4,246.7 L467.6,246.8 L468.9,246.7 L470.2,246.7 L471.6,246.8 L472.9,246.9 L474.2,247.2 L475.5,247.3 L476.7,247.4 L478.0,246.8 L479.2,246.3 L480.4,245.9 L481.7,245.5 L482.9,245.1 L484.1,244.4 L485.3,243.8 L486.6,243.2 L487.8,243.0 L489.0,243.2 L490.3,243.3 L491.5,243.1 L492.8,242.7 L494.0,242.6 L495.3,243.0 L496.6,243.7 L497.8,244.3 L499.1,244.6 L500.3,244.5 L501.6,244.8 L502.9,245.3 L504.1,245.6 L505.4,245.6 L506.7,245.3 L508.1,245.0 L509.4,244.7 L510.7,244.0 L512.0,243.1 L513.3,242.0 L514.7,241.1 L516.0,239.8 L517.3,238.6 L518.6,237.7 L520.0,236.6 L521.3,235.3 L522.7,233.6 L524.0,232.3 L525.4,231.3 L526.7,230.9 L527.9,231.3 L529.1,232.1 L530.3,233.3 L531.5,234.1 L532.8,234.6 L534.0,234.7 L535.2,234.7 L536.4,234.8 L537.8,234.5 L539.1,234.1 L540.5,233.6 L541.8,233.1 L543.1,232.9 L544.5,232.8 L545.7,233.6 L546.9,234.5 L548.2,235.7 L549.4,237.1 L550.6,238.3 L551.8,239.4 L553.0,240.5 L554.2,241.7 L555.5,242.6 L556.7,243.0 L557.9,243.1 L559.1,242.7 L560.4,241.9 L561.6,240.7 L562.8,239.3 L564.0,237.5 L565.3,235.2 L566.5,232.7 L567.7,230.2 L569.0,227.7 L570.2,225.4 L571.4,223.6 L572.6,222.5 L573.9,221.5 L575.1,221.4 L576.3,221.9 L577.5,222.7 L578.7,224.2 L579.9,225.6 L581.2,227.3 L582.4,228.4 L583.6,229.1 L584.8,229.7 L586.0,230.1 L587.2,230.5 L588.4,229.7 L589.6,228.3 L590.8,227.2 L592.0,226.5 L593.2,225.7 L594.4,224.3 L595.6,222.8 L596.8,222.1 L598.0,222.3 L599.2,222.4 L600.4,221.4 L601.6,220.5 L602.9,220.8 L604.1,222.3 L605.4,223.7 L606.6,225.0 L607.9,226.8 L609.1,229.6 L610.4,232.7 L611.6,235.4 L612.9,238.0 L614.1,240.2 L615.4,242.4 L616.6,244.3 L617.9,245.9 L619.1,247.2 L620.4,247.8 L621.6,248.1 L622.9,248.2 L624.1,248.5 L625.4,249.1 L626.6,249.6 L627.9,250.1 L629.1,250.3 L630.4,250.4 L631.6,250.7 L632.9,251.0 L634.1,251.4 L635.4,251.7 L636.6,251.9 L637.9,251.9 L639.1,251.6 L640.3,251.4 L641.5,251.6 L642.7,251.7 L643.9,251.7 L645.1,251.7 L646.3,251.7 L647.5,251.8 L648.7,251.8 L649.9,252.0 L651.1,252.1 L652.3,252.0 L653.5,251.8 L654.7,251.8 L655.9,251.8 L657.1,251.7 L658.3,251.5 L659.5,251.5 L660.7,251.8 L662.0,251.9 L663.2,251.9 L664.4,251.8 L665.6,251.4 L666.8,251.3 L668.0,251.4 L669.2,251.6 L670.4,251.8 L671.6,251.6 L672.8,251.4 L674.0,251.5 L675.2,251.7 L676.4,251.8 L677.6,251.7 L678.8,251.3 L680.0,251.2 L681.2,251.3 L682.4,251.4 L683.6,251.3 L684.8,251.3 L686.0,251.4 L687.2,251.4 L688.4,251.2 L689.6,251.1 L690.8,251.2 L692.0,251.5 L693.2,251.5 L694.4,251.4 L695.6,251.4 L696.8,251.4 L698.0,251.5 L699.2,251.5 L700.4,251.5 L701.6,251.3 L702.8,251.1 L704.0,251.0 L705.2,251.0 L706.5,251.2 L707.7,251.4 L708.9,251.4 L710.1,251.5 L711.3,251.5 L712.5,251.5 L713.7,251.4 L714.9,251.3 L716.1,251.4 L717.3,251.4 L718.5,251.5 L719.7,251.6 L720.9,251.5 L722.1,251.3 L723.3,251.1 L724.5,251.0 L725.7,251.1 L726.9,251.1 L728.1,251.2 L729.3,251.3 L730.5,251.3 L731.7,251.1 L732.9,251.0 L734.1,251.0 L735.3,251.2 L736.5,251.3 L737.7,251.2 L738.9,251.2 L740.1,251.0 L741.3,250.6 L742.5,250.3 L743.7,250.5 L744.9,250.8 L746.1,250.9 L747.3,251.1 L748.5,251.2 L749.8,251.4 L751.0,251.2 L752.2,251.0 L753.4,250.9 L754.6,251.0 L755.8,251.1 L757.0,251.1 L758.2,251.0 L759.4,250.8 L760.6,250.7 L761.8,250.7 L763.0,250.5 L764.2,250.4 L765.4,250.4 L766.6,250.6 L767.8,250.5 L769.0,250.3 L770.2,250.3 L771.4,250.6 L772.6,250.7 L773.8,250.5 L775.0,250.5 L776.2,250.7 L777.5,251.0 L778.7,251.1 L779.9,251.0 L781.1,250.9 L782.3,250.7 L783.5,250.6 L784.7,250.7 L785.9,250.7 L787.1,250.7 L788.4,250.5 L789.6,250.3 L790.8,250.5 L792.0,250.7 L793.2,250.9 L794.4,251.0 L795.6,250.9 L796.8,250.8 L798.0,250.7 L799.2,250.6 L800.5,250.5 L801.7,250.4 L802.9,250.6 L804.1,250.7 L805.3,250.7 L806.5,250.6 L807.7,250.5 L808.9,250.3 L810.1,250.1 L811.4,250.3 L812.6,250.5 L813.8,250.7 L815.0,250.7 L816.2,250.6 L817.4,250.5 L818.6,250.4 L819.8,250.2 L821.0,250.1 L822.3,250.0 L823.5,250.0 L824.7,250.0 L825.9,250.1 L827.1,250.2 L828.3,250.2 L829.5,250.2 L830.7,250.0 L831.9,250.0 L833.2,250.0 L834.4,250.1 L835.6,250.0 L836.8,249.8 L838.0,249.8 L839.2,249.8 L840.4,249.8 L841.6,249.9 L842.8,250.0 L844.1,250.1 L845.3,250.0 L846.5,250.0 L847.7,250.1 L848.9,250.1 L850.1,250.2 L851.3,250.2 L852.5,250.2 L853.7,250.1 L854.9,250.1 L856.2,250.3 L857.4,250.4 L858.6,250.3 L859.8,250.1 L861.0,250.0 L862.2,250.0 L863.4,250.1 L864.6,250.1 L865.8,250.1 L867.1,249.8 L868.3,249.5 L869.5,249.5 L870.7,249.7 L871.9,249.8 L873.1,249.8 L874.3,249.9 L875.5,249.8 L876.7,249.7 L878.0,249.5 L879.2,249.5 L880.4,249.4 L881.6,249.5 L882.8,249.8 L884.1,250.1 L885.5,250.2 L886.8,250.0 L888.1,249.6 L889.5,249.2 L890.8,249.1 L892.1,249.1 L893.5,248.7 L894.8,248.0 L896.1,247.6 L897.5,247.2 L898.8,246.5 L900.0,245.4 L901.2,244.1 L902.4,242.7 L903.6,241.0 L904.8,239.3 L906.0,237.5 L907.2,235.2 L908.4,232.6 L909.6,230.8 L910.8,229.9 L912.3,228.4 L913.8,226.3 L915.3,224.7 L916.8,223.4 L918.3,222.5 L920.0,222.4 L921.8,222.7 L923.1,223.4 L924.5,225.0 L925.8,226.5 L927.0,227.9 L928.3,229.4 L929.5,231.5 L930.8,233.3 L932.0,234.2 L933.3,234.8 L934.5,235.6 L935.8,237.0 L937.0,238.9 L938.3,240.6 L939.5,241.8 L940.8,242.8 L942.0,243.5 L943.3,244.6 L944.5,245.1 L945.8,245.4 L947.0,245.6 L948.2,246.3 L949.4,247.3 L950.6,247.9 L951.8,248.0 L953.2,247.8 L954.5,247.7 L955.9,247.7 L957.3,247.7 L958.6,247.5 L960.0,247.2 L961.2,247.0 L962.5,247.0 L963.8,247.2 L965.0,247.1 L966.2,246.8 L967.5,246.6 L968.8,246.8 L970.0,247.1 L971.2,247.1 L972.5,247.0 L973.8,246.6 L975.0,246.3 L976.2,246.2 L977.5,246.2 L978.8,246.5 L980.0,246.2" stroke="#d2a014"/>
<path d="M76.0,329.3 L77.2,329.6 L78.4,329.6 L79.7,329.6 L80.9,329.7 L82.1,329.8 L83.3,329.7 L84.6,329.4 L85.8,329.2 L87.0,329.1 L88.2,329.3 L89.5,329.4 L90.7,329.4 L91.9,329.5 L93.1,329.7 L94.4,329.7 L95.6,329.4 L96.8,329.1 L98.0,329.1 L99.3,329.2 L100.5,329.3 L101.7,329.4 L102.9,329.3 L104.1,329.1 L105.4,329.0 L106.6,329.1 L107.8,329.1 L109.0,328.9 L110.3,328.6 L111.5,328.5 L112.7,328.6 L113.9,328.5 L115.2,328.5 L116.4,328.5 L117.6,328.7 L118.8,328.8 L120.1,328.6 L121.3,328.7 L122.5,328.7 L123.7,328.8 L125.0,328.9 L126.2,328.8 L127.4,328.8 L128.6,328.8 L129.8,328.6 L131.1,328.3 L132.3,328.1 L133.5,328.3 L134.8,328.6 L136.0,328.7 L137.2,328.6 L138.4,328.5 L139.7,328.5 L140.9,328.4 L142.1,328.1 L143.3,327.9 L144.6,327.9 L145.8,327.8 L147.0,327.5 L148.2,327.3 L149.4,327.2 L150.7,327.3 L151.9,327.7 L153.1,327.9 L154.3,327.8 L155.6,327.3 L156.8,326.7 L158.0,326.2 L159.2,325.9 L160.5,326.3 L161.7,326.7 L162.9,326.7 L164.1,326.3 L165.4,326.0 L166.6,325.8 L167.8,325.6 L169.0,325.6 L170.3,325.6 L171.5,325.4 L172.7,325.2 L173.9,325.1 L175.1,325.3 L176.3,325.5 L177.6,325.6 L178.8,325.4 L180.0,325.0 L181.2,324.6 L182.4,324.3 L183.6,324.3 L184.8,324.3 L186.1,324.5 L187.3,324.5 L188.5,324.1 L189.7,323.7 L190.9,323.5 L192.1,323.5 L193.3,323.5 L194.5,323.7 L195.7,323.6 L196.9,323.3 L198.1,323.1 L199.4,322.8 L200.6,322.6 L201.8,322.3 L203.0,322.0 L204.2,322.0 L205.4,322.0 L206.6,322.0 L207.8,321.8 L209.0,321.6 L210.2,321.6 L211.4,321.5 L212.6,321.3 L213.8,320.8 L215.0,320.3 L216.2,319.9 L217.5,319.4 L218.7,319.3 L219.9,319.3 L221.1,319.2 L222.3,318.6 L223.5,317.9 L224.7,317.8 L225.9,317.8 L227.1,317.6 L228.3,317.0 L229.5,316.5 L230.8,316.1 L232.0,315.7 L233.3,315.4 L234.5,315.0 L235.8,314.5 L237.0,314.0 L238.3,313.6 L239.5,313.3 L240.8,312.8 L242.0,311.9 L243.3,310.9 L244.5,310.1 L245.7,309.6 L247.0,309.4 L248.2,309.1 L249.5,308.3 L250.7,307.1 L251.9,306.5 L253.2,306.5 L254.4,306.8 L255.6,306.4 L256.9,305.4 L258.1,304.6 L259.4,304.1 L260.6,303.8 L261.8,303.2 L263.1,302.6 L264.3,301.6 L265.6,300.9 L266.8,300.7 L268.0,300.4 L269.3,299.4 L270.5,298.5 L271.7,298.3 L273.0,298.1 L274.2,297.8 L275.5,297.1 L276.7,296.2 L277.9,295.3 L279.2,294.7 L280.4,294.5 L281.7,294.0 L282.9,293.0 L284.1,291.9 L285.4,291.0 L286.6,291.0 L287.8,291.0 L289.1,290.9 L290.3,290.4 L291.6,289.5 L292.8,288.7 L294.0,287.9 L295.3,287.4 L296.5,286.3 L297.8,285.0 L299.0,284.3 L300.2,284.2 L301.5,283.6 L302.7,282.7 L303.9,282.0 L305.2,281.1 L306.4,280.5 L307.7,280.0 L308.9,279.8 L310.2,279.0 L311.5,278.0 L312.8,276.9 L314.1,276.2 L315.4,275.9 L316.6,275.9 L317.9,276.0 L319.2,275.2 L320.5,274.3 L321.8,273.1 L323.0,272.0 L324.2,271.4 L325.4,271.4 L326.6,271.3 L327.9,270.5 L329.1,269.7 L330.3,269.7 L331.5,269.4 L332.8,268.6 L334.2,268.1 L335.5,268.1 L336.8,267.7 L338.2,266.4 L339.5,265.1 L340.7,264.6 L341.9,264.9 L343.1,264.7 L344.4,264.0 L345.6,263.1 L346.8,262.1 L348.0,262.1 L349.3,263.0 L350.7,264.2 L352.0,264.3 L353.3,263.1 L354.7,262.1 L356.0,262.3 L357.3,262.9 L358.5,262.7 L359.8,262.2 L361.1,261.8 L362.4,261.7 L363.6,262.0 L364.9,261.9 L366.3,262.3 L367.7,263.2 L369.1,264.8 L370.5,266.7 L371.9,268.0 L373.2,269.1 L374.6,270.0 L375.9,271.2 L377.2,272.1 L378.6,273.1 L379.9,274.1 L381.1,274.8 L382.3,275.4 L383.6,276.0 L384.8,277.0 L386.0,278.3 L387.2,280.1 L388.5,282.0 L389.7,283.6 L390.9,285.0 L392.1,285.6 L393.4,285.7 L394.6,286.2 L395.8,287.3 L397.1,288.8 L398.5,290.8 L399.8,292.6 L401.1,294.1 L402.5,294.8 L403.8,295.5 L405.1,296.6 L406.4,297.8 L407.8,298.8 L409.1,300.3 L410.4,301.7 L411.7,302.9 L413.1,303.5 L414.4,303.7 L415.7,303.7 L416.9,303.8 L418.2,304.3 L419.4,305.0 L420.7,305.3 L421.9,305.3 L423.2,305.3 L424.4,305.5 L425.7,305.8 L427.0,306.4 L428.4,306.9 L429.7,307.3 L431.0,308.3 L432.4,310.0 L433.7,312.0 L435.0,313.2 L436.3,313.8 L437.7,314.5 L439.0,315.4 L440.3,316.6 L441.6,317.5 L443.0,318.0 L444.3,318.4 L445.6,318.6 L446.9,318.9 L448.1,319.1 L449.4,319.5 L450.7,320.0 L452.0,320.6 L453.2,321.0 L454.5,321.2 L455.8,321.5 L457.1,321.7 L458.3,321.7 L459.6,322.0 L460.9,322.5 L462.3,323.2 L463.6,323.8 L464.9,324.4 L466.3,324.9 L467.6,325.0 L468.9,324.9 L470.2,324.6 L471.6,324.3 L472.9,324.2 L474.2,324.3 L475.5,324.4 L476.8,324.5 L478.2,324.3 L479.5,323.7 L480.8,322.9 L482.2,322.0 L483.5,321.6 L484.8,321.2 L486.0,320.6 L487.2,319.9 L488.5,319.4 L489.8,318.8 L491.0,318.3 L492.2,318.0 L493.5,317.9 L494.8,318.3 L496.1,318.8 L497.5,319.4 L498.8,320.2 L500.1,321.0 L501.4,321.5 L502.8,321.7 L504.1,321.7 L505.4,321.6 L506.6,321.2 L507.9,320.8 L509.1,321.0 L510.4,321.5 L511.6,321.3 L512.9,320.1 L514.1,318.5 L515.3,316.9 L516.5,315.3 L517.8,313.6 L519.0,311.8 L520.2,309.9 L521.4,307.9 L522.6,306.1 L523.9,304.8 L525.1,304.1 L526.4,303.9 L527.6,304.1 L528.9,304.8 L530.1,306.0 L531.4,307.3 L532.6,308.6 L533.9,309.6 L535.1,310.2 L536.4,310.7 L537.6,310.6 L538.9,310.2 L540.2,309.7 L541.5,309.1 L542.8,308.8 L544.1,309.0 L545.4,309.3 L546.7,309.5 L548.0,310.0 L549.2,310.8 L550.5,311.8 L551.8,312.9 L553.1,314.4 L554.4,315.8 L555.7,316.7 L556.9,317.4 L558.2,318.2 L559.5,318.9 L560.7,318.8 L561.9,317.7 L563.1,315.8 L564.3,313.2 L565.5,310.4 L566.7,307.7 L567.9,305.3 L569.1,302.6 L570.3,299.9 L571.5,297.9 L572.7,295.9 L573.9,294.1 L575.1,293.7 L576.3,294.8 L577.5,296.1 L578.7,296.8 L579.9,297.9 L581.2,300.0 L582.4,302.2 L583.6,304.5 L584.8,306.4 L586.0,307.1 L587.3,306.8 L588.5,305.7 L589.8,304.1 L591.0,301.9 L592.3,299.8 L593.5,298.0 L594.8,295.9 L596.1,293.8 L597.3,291.6 L598.6,289.9 L599.8,289.0 L601.1,289.0 L602.4,290.1 L603.6,292.2 L604.9,295.0 L606.2,298.0 L607.4,300.6 L608.7,303.1 L610.0,306.2 L611.2,309.4 L612.5,312.2 L613.8,314.6 L615.2,317.1 L616.5,319.7 L617.9,322.2 L619.2,324.3 L620.6,325.7 L621.9,326.5 L623.1,326.9 L624.4,327.5 L625.6,327.9 L626.8,328.2 L628.0,328.3 L629.3,328.4 L630.5,328.8 L631.7,329.1 L633.0,329.3 L634.2,329.4 L635.4,329.8 L636.6,330.1 L637.9,329.9 L639.1,329.6 L640.3,329.5 L641.5,329.4 L642.7,329.3 L643.9,329.2 L645.1,329.2 L646.3,329.5 L647.5,329.8 L648.7,329.9 L649.9,329.7 L651.1,329.7 L652.3,329.8 L653.5,329.8 L654.7,329.8 L655.9,329.8 L657.1,329.8 L658.3,329.6 L659.5,329.5 L660.7,329.5 L662.0,329.4 L663.2,329.4 L664.4,329.5 L665.6,329.5 L666.8,329.3 L668.0,329.1 L669.2,329.2 L670.4,329.3 L671.6,329.4 L672.8,329.3 L674.0,329.4 L675.2,329.6 L676.4,329.6 L677.6,329.5 L678.8,329.6 L680.0,329.6 L681.2,329.6 L682.4,329.6 L683.6,329.6 L684.8,329.7 L686.0,329.5 L687.2,329.3 L688.4,329.1 L689.6,329.0 L690.8,328.9 L692.0,328.9 L693.2,328.8 L694.4,328.9 L695.6,329.1 L696.8,329.2 L698.0,329.3 L699.2,329.2 L700.4,329.2 L701.6,329.2 L702.8,329.0 L704.0,328.9 L705.2,328.7 L706.5,328.8 L707.7,329.1 L708.9,329.2 L710.1,329.2 L711.3,329.1 L712.5,329.1 L713.7,329.2 L714.9,329.1 L716.1,329.0 L717.3,328.8 L718.5,328.7 L719.7,328.6 L720.9,328.7 L722.1,328.8 L723.3,328.9 L724.5,328.9 L725.7,328.9 L726.9,328.8 L728.1,328.8 L729.3,328.9 L730.5,328.8 L731.7,328.5 L732.9,328.3 L734.1,328.4 L735.3,328.7 L736.5,329.1 L737.7,329.3 L738.9,329.2 L740.1,329.0 L741.3,328.9 L742.5,328.9 L743.7,328.8 L744.9,328.9 L746.1,328.8 L747.3,328.6 L748.5,328.2 L749.8,328.1 L751.0,328.5 L752.2,328.7 L753.4,328.8 L754.6,328.6 L755.8,328.6 L757.0,328.5 L758.2,328.4 L759.4,328.4 L760.6,328.5 L761.8,328.8 L763.0,328.8 L764.2,328.6 L765.4,328.3 L766.6,328.4 L767.8,328.6 L769.0,328.7 L770.2,328.7 L771.4,328.6 L772.6,328.2 L773.8,328.1 L775.0,328.3 L776.2,328.5 L777.5,328.5 L778.7,328.4 L779.9,328.3 L781.1,328.1 L782.3,327.9 L783.5,328.1 L784.7,328.2 L785.9,328.1 L787.1,327.9 L788.4,327.7 L789.6,327.9 L790.8,328.1 L792.0,328.0 L793.2,328.0 L794.4,328.2 L795.6,328.6 L796.8,328.6 L798.0,328.1 L799.2,327.7 L800.5,327.6 L801.7,327.9 L802.9,328.1 L804.1,328.1 L805.3,327.9 L806.5,327.9 L807.7,328.0 L808.9,328.2 L810.1,328.3 L811.4,328.3 L812.6,328.3 L813.8,328.2 L815.0,328.1 L816.2,327.9 L817.4,327.8 L818.6,327.8 L819.8,327.8 L821.0,327.8 L822.3,327.7 L823.5,327.6 L824.7,327.6 L825.9,327.7 L827.1,327.9 L828.3,328.1 L829.5,327.9 L830.7,327.5 L831.9,327.5 L833.2,327.6 L834.4,327.7 L835.6,327.6 L836.8,327.5 L838.0,327.6 L839.2,327.5 L840.4,327.4 L841.6,327.4 L842.8,327.6 L844.1,327.8 L845.3,327.9 L846.5,327.9 L847.7,327.7 L848.9,327.5 L850.1,327.5 L851.3,327.5 L852.5,327.5 L853.7,327.6 L854.9,327.9 L856.2,328.0 L857.4,328.0 L858.6,327.7 L859.8,327.7 L861.0,327.7 L862.2,327.5 L863.4,327.4 L864.6,327.5 L865.8,327.6 L867.1,327.6 L868.3,327.4 L869.5,327.4 L870.7,327.4 L871.9,327.5 L873.1,327.6 L874.3,327.5 L875.5,327.3 L876.7,327.0 L878.0,326.8 L879.2,326.7 L880.4,326.7 L881.6,327.0 L882.8,327.0 L884.1,326.7 L885.5,326.4 L886.8,326.4 L888.1,326.4 L889.5,326.2 L890.8,326.1 L892.1,326.1 L893.5,325.8 L894.8,325.3 L896.1,324.5 L897.5,323.9 L898.8,323.2 L900.0,322.3 L901.2,320.9 L902.4,318.8 L903.6,316.9 L904.8,315.4 L906.0,313.9 L907.2,312.1 L908.4,309.9 L909.6,307.8 L910.8,305.2 L912.3,301.9 L913.8,299.4 L915.3,298.2 L916.8,297.8 L918.3,297.0 L920.0,296.5 L921.8,297.3 L923.1,298.5 L924.5,300.0 L925.8,302.0 L927.0,304.0 L928.3,306.0 L929.5,307.5 L930.8,309.0 L932.0,310.5 L933.3,312.0 L934.5,313.3 L935.8,314.9 L937.0,316.4 L938.3,317.6 L939.5,318.3 L940.8,319.0 L942.0,320.1 L943.3,321.3 L944.5,322.7 L945.8,323.6 L947.0,323.7 L948.2,323.8 L949.4,324.0 L950.6,324.2 L951.8,324.3 L953.2,324.4 L954.5,324.7 L955.9,325.1 L957.3,325.4 L958.6,325.2 L960.0,325.0 L961.2,325.0 L962.5,325.2 L963.8,325.1 L965.0,324.9 L966.2,324.7 L967.5,324.6 L968.8,324.2 L970.0,323.7 L971.2,323.4 L972.5,323.4 L973.8,323.8 L975.0,324.0 L976.2,323.7 L977.5,323.2 L978.8,323.0 L980.0,323.2" stroke="#b46ede"/>
<path d="M76.0,408.1 L77.2,408.1 L78.4,407.8 L79.7,407.5 L80.9,407.5 L82.1,407.7 L83.3,407.8 L84.6,407.9 L85.8,407.9 L87.0,408.0 L88.2,408.1 L89.5,408.1 L90.7,408.2 L91.9,408.2 L93.1,408.2 L94.4,408.0 L95.6,407.7 L96.8,407.7 L98.0,407.9 L99.3,408.2 L100.5,408.2 L101.7,408.0 L102.9,407.8 L104.1,407.6 L105.4,407.6 L106.6,407.8 L107.8,408.1 L109.0,408.2 L110.3,408.2 L111.5,408.2 L112.7,408.0 L113.9,407.8 L115.2,407.8 L116.4,407.9 L117.6,408.0 L118.8,407.8 L120.1,407.6 L121.3,407.4 L122.5,407.2 L123.7,407.1 L125.0,407.0 L126.2,407.0 L127.4,407.0 L128.6,407.1 L129.8,407.4 L131.1,407.8 L132.3,407.9 L133.5,407.7 L134.7,407.4 L136.0,407.2 L137.2,407.1 L138.4,406.9 L139.6,406.8 L140.9,406.6 L142.1,406.5 L143.3,406.4 L144.5,406.3 L145.7,406.2 L147.0,406.1 L148.2,406.1 L149.4,406.1 L150.6,406.1 L151.9,406.2 L153.1,406.1 L154.3,405.8 L155.5,405.6 L156.7,405.6 L158.0,405.8 L159.2,405.7 L160.4,405.3 L161.6,404.9 L162.9,404.8 L164.1,404.8 L165.3,405.1 L166.5,405.0 L167.8,404.7 L169.0,404.2 L170.2,403.8 L171.4,403.9 L172.6,404.2 L173.8,404.4 L175.0,404.1 L176.2,403.6 L177.4,403.1 L178.7,403.1 L179.9,403.3 L181.1,403.5 L182.3,403.5 L183.5,403.2 L184.7,402.9 L185.9,402.7 L187.1,402.3 L188.3,402.1 L189.5,402.1 L190.7,402.0 L191.9,401.7 L193.2,401.3 L194.4,401.4 L195.6,401.5 L196.8,401.1 L198.0,400.4 L199.2,400.2 L200.4,400.2 L201.6,400.0 L202.8,399.3 L204.0,399.0 L205.2,399.2 L206.4,399.0 L207.7,398.4 L208.9,398.0 L210.1,397.8 L211.3,398.1 L212.5,398.1 L213.7,397.6 L214.9,396.5 L216.1,395.6 L217.3,395.4 L218.6,395.4 L219.8,395.0 L221.0,394.4 L222.2,393.9 L223.4,393.5 L224.6,393.1 L225.8,392.9 L227.1,393.0 L228.3,392.7 L229.6,392.2 L230.8,391.7 L232.1,390.9 L233.3,390.2 L234.6,389.5 L235.8,389.3 L237.1,389.2 L238.3,388.7 L239.6,388.2 L240.8,387.5 L242.1,386.5 L243.3,385.3 L244.6,384.7 L245.8,384.8 L247.1,385.0 L248.3,385.0 L249.6,384.4 L250.8,383.8 L252.1,383.4 L253.3,383.1 L254.6,382.7 L255.8,381.7 L257.1,380.7 L258.3,379.9 L259.6,379.1 L260.9,378.5 L262.1,378.0 L263.4,378.0 L264.6,377.6 L265.9,376.8 L267.1,375.9 L268.4,375.2 L269.6,374.3 L270.9,373.5 L272.3,372.9 L273.7,372.4 L275.2,371.1 L276.6,369.5 L278.0,369.0 L279.3,368.9 L280.6,368.0 L281.9,366.6 L283.2,366.4 L284.6,366.4 L285.9,365.9 L287.2,365.3 L288.5,363.7 L289.8,362.2 L291.1,361.0 L292.3,360.4 L293.6,360.6 L294.8,361.0 L296.1,361.1 L297.3,360.4 L298.5,359.5 L299.8,358.7 L301.0,358.7 L302.2,358.7 L303.5,358.2 L304.7,357.6 L306.0,357.0 L307.2,356.1 L308.5,354.9 L309.8,354.0 L311.0,353.5 L312.3,352.9 L313.6,352.2 L314.9,351.8 L316.2,351.4 L317.5,351.0 L318.7,350.6 L320.0,350.2 L321.3,349.5 L322.6,348.7 L323.8,347.7 L325.1,346.6 L326.3,345.6 L327.6,344.1 L328.8,343.0 L330.1,341.8 L331.3,340.6 L332.6,339.4 L333.8,339.1 L335.1,338.9 L336.3,338.5 L337.6,338.4 L338.9,338.6 L340.1,338.8 L341.4,338.6 L342.6,338.2 L343.9,338.3 L345.1,338.5 L346.4,338.5 L347.6,338.6 L348.8,338.5 L350.0,338.1 L351.2,338.0 L352.4,338.3 L353.6,338.8 L354.9,338.8 L356.1,339.1 L357.3,340.0 L358.5,340.8 L359.7,341.0 L360.9,341.0 L362.1,341.2 L363.3,341.1 L364.5,341.2 L365.7,341.9 L366.9,343.1 L368.2,344.6 L369.4,345.9 L370.6,347.1 L371.8,347.4 L373.1,347.7 L374.4,348.7 L375.8,349.7 L377.1,351.6 L378.4,353.2 L379.8,354.3 L381.1,354.9 L382.4,355.4 L383.7,356.6 L385.0,358.3 L386.3,360.4 L387.6,362.3 L389.0,363.6 L390.3,365.0 L391.6,366.5 L392.9,368.2 L394.2,370.1 L395.4,371.5 L396.7,372.7 L398.0,373.4 L399.3,374.2 L400.5,375.0 L401.8,376.0 L403.1,377.8 L404.4,380.2 L405.6,381.5 L406.9,381.8 L408.2,382.0 L409.5,382.8 L410.7,383.7 L412.0,384.3 L413.2,385.0 L414.4,385.7 L415.6,386.6 L416.9,387.0 L418.1,387.3 L419.3,387.3 L420.5,387.4 L421.9,386.6 L423.3,385.3 L424.7,384.7 L425.9,384.8 L427.2,385.9 L428.4,386.9 L429.6,388.0 L430.9,389.0 L432.1,389.7 L433.3,390.1 L434.6,391.0 L435.8,392.2 L437.0,393.2 L438.3,393.7 L439.5,394.0 L440.7,394.8 L441.9,396.0 L443.1,396.7 L444.4,397.3 L445.6,397.5 L446.8,397.9 L448.0,398.4 L449.2,398.9 L450.4,399.1 L451.6,399.1 L452.9,399.2 L454.1,399.5 L455.3,399.8 L456.5,400.3 L457.8,401.1 L459.0,401.4 L460.3,401.7 L461.6,402.2 L462.9,402.9 L464.1,403.6 L465.4,404.1 L466.7,404.4 L467.9,404.3 L469.2,403.8 L470.4,403.4 L471.6,403.4 L472.8,403.6 L474.1,403.4 L475.3,402.8 L476.5,402.2 L477.7,401.9 L479.0,401.7 L480.3,401.4 L481.6,401.1 L482.9,400.3 L484.3,399.4 L485.6,398.8 L486.9,398.5 L488.2,398.0 L489.5,397.5 L490.9,397.1 L492.2,397.0 L493.5,397.1 L494.8,397.4 L496.1,397.8 L497.5,397.9 L498.8,397.9 L500.0,398.0 L501.2,398.5 L502.4,399.2 L503.7,400.1 L504.9,400.6 L506.1,400.7 L507.3,400.7 L508.7,400.7 L510.1,400.6 L511.5,400.2 L512.7,399.4 L514.0,398.2 L515.2,396.3 L516.4,394.0 L517.7,391.6 L518.9,389.6 L520.2,387.7 L521.4,385.8 L522.6,384.1 L523.9,383.0 L525.1,382.6 L526.3,382.9 L527.5,383.1 L528.7,383.2 L529.9,383.4 L531.2,383.9 L532.4,384.9 L533.6,385.6 L534.8,385.9 L536.0,385.7 L537.3,385.2 L538.7,384.7 L540.0,384.4 L541.4,384.3 L542.7,384.4 L544.1,384.6 L545.4,384.7 L546.6,384.8 L547.9,385.1 L549.1,386.1 L550.4,388.0 L551.6,390.4 L552.9,392.7 L554.1,394.5 L555.4,395.9 L556.6,396.6 L557.9,396.7 L559.1,396.1 L560.4,395.1 L561.6,393.5 L562.8,390.9 L564.0,387.8 L565.3,384.5 L566.5,381.1 L567.7,378.2 L569.0,375.6 L570.2,373.0 L571.4,370.4 L572.6,368.0 L573.9,366.5 L575.1,366.0 L576.4,366.6 L577.6,367.8 L578.9,369.2 L580.1,370.7 L581.4,372.7 L582.6,374.9 L583.9,377.0 L585.1,378.2 L586.4,379.0 L587.6,379.7 L588.8,379.8 L590.1,378.9 L591.3,376.9 L592.5,374.6 L593.7,372.5 L595.0,370.6 L596.2,368.5 L597.4,366.2 L598.6,364.4 L599.9,363.6 L601.1,363.7 L602.4,364.3 L603.7,365.5 L605.0,367.6 L606.3,370.9 L607.6,374.6 L608.9,378.2 L610.2,381.6 L611.5,385.0 L612.8,387.9 L614.1,390.4 L615.4,392.8 L616.8,395.3 L618.1,397.7 L619.5,400.1 L620.8,402.3 L622.2,403.7 L623.5,404.6 L624.7,405.1 L625.9,405.5 L627.1,405.9 L628.3,406.2 L629.5,406.7 L630.7,407.0 L631.9,407.1 L633.1,407.1 L634.3,407.2 L635.5,407.3 L636.7,407.5 L637.9,407.8 L639.1,408.0 L640.3,407.9 L641.5,407.9 L642.7,407.9 L643.9,407.9 L645.1,407.8 L646.3,407.7 L647.5,407.5 L648.7,407.5 L649.9,407.7 L651.1,407.8 L652.3,407.7 L653.5,407.5 L654.7,407.6 L655.9,407.7 L657.1,407.6 L658.3,407.5 L659.5,407.7 L660.7,408.1 L662.0,408.2 L663.2,408.0 L664.4,407.7 L665.6,407.6 L666.8,407.7 L668.0,407.7 L669.2,407.8 L670.4,407.9 L671.6,407.9 L672.8,407.8 L674.0,407.7 L675.2,407.6 L676.4,407.6 L677.6,407.7 L678.8,407.9 L680.0,407.8 L681.2,407.5 L682.4,407.1 L683.6,407.2 L684.8,407.7 L686.0,408.1 L687.2,408.1 L688.4,407.9 L689.6,407.6 L690.8,407.4 L692.0,407.0 L693.2,406.9 L694.4,407.1 L695.6,407.3 L696.8,407.5 L698.0,407.5 L699.2,407.6 L700.4,407.7 L701.6,407.7 L702.8,407.9 L704.0,408.0 L705.2,408.0 L706.5,407.8 L707.7,407.6 L708.9,407.8 L710.1,407.8 L711.3,407.9 L712.5,407.9 L713.7,408.1 L714.9,408.1 L716.1,407.9 L717.3,407.7 L718.5,407.5 L719.7,407.4 L720.9,407.3 L722.1,407.4 L723.3,407.7 L724.5,408.0 L725.7,408.1 L726.9,408.0 L728.1,407.6 L729.3,407.3 L730.5,407.3 L731.7,407.3 L732.9,407.4 L734.1,407.5 L735.3,407.4 L736.5,407.3 L737.7,407.1 L738.9,407.0 L740.1,407.2 L741.3,407.1 L742.5,407.1 L743.7,407.1 L744.9,407.4 L746.1,407.5 L747.3,407.6 L748.5,407.8 L749.8,407.8 L751.0,407.6 L752.2,407.4 L753.4,407.4 L754.6,407.6 L755.8,407.7 L757.0,407.5 L758.2,407.2 L759.4,407.2 L760.6,407.3 L761.8,407.2 L763.0,406.9 L764.2,406.9 L765.4,407.2 L766.6,407.3 L767.8,407.1 L769.0,407.0 L770.2,406.9 L771.4,406.9 L772.6,407.0 L773.8,407.3 L775.0,407.6 L776.2,407.6 L777.5,407.4 L778.7,407.1 L779.9,406.9 L781.1,407.0 L782.3,407.1 L783.5,407.1 L784.7,407.0 L785.9,407.0 L787.1,407.2 L788.4,407.3 L789.6,407.1 L790.8,406.8 L792.0,406.6 L793.2,406.6 L794.4,406.9 L795.6,407.0 L796.8,406.9 L798.0,406.6 L799.2,406.6 L800.5,406.8 L801.7,407.1 L802.9,407.1 L804.1,407.1 L805.3,407.1 L806.5,407.1 L807.7,406.8 L808.9,406.6 L810.1,406.7 L811.4,406.9 L812.6,406.9 L813.8,406.6 L815.0,406.5 L816.2,406.3 L817.4,406.3 L818.6,406.5 L819.8,406.7 L821.0,406.9 L822.3,406.9 L823.5,406.8 L824.7,406.7 L825.9,406.5 L827.1,406.6 L828.3,406.8 L829.5,406.9 L830.7,406.8 L831.9,406.5 L833.2,406.4 L834.4,406.3 L835.6,406.4 L836.8,406.4 L838.0,406.3 L839.2,406.3 L840.4,406.2 L841.6,405.9 L842.8,406.0 L844.1,406.2 L845.3,406.2 L846.5,405.9 L847.7,405.5 L848.9,405.5 L850.1,405.4 L851.3,405.4 L852.5,405.7 L853.7,406.1 L854.9,406.3 L856.2,406.1 L857.4,405.9 L858.6,405.9 L859.8,405.7 L861.0,405.5 L862.2,405.4 L863.4,405.5 L864.6,405.7 L865.8,405.8 L867.1,405.6 L868.3,405.4 L869.5,405.3 L870.7,405.4 L871.9,405.7 L873.1,405.8 L874.3,405.7 L875.5,405.5 L876.7,405.4 L878.0,405.5 L879.2,405.4 L880.4,405.4 L881.6,405.5 L882.8,405.7 L884.1,405.5 L885.5,405.0 L886.8,404.8 L888.1,404.7 L889.5,404.7 L890.8,404.5 L892.1,404.2 L893.5,403.8 L894.8,403.4 L896.1,402.9 L897.5,402.2 L898.8,401.3 L900.0,400.0 L901.2,398.3 L902.4,396.8 L903.6,395.5 L904.8,393.6 L906.0,391.2 L907.2,388.7 L908.4,386.9 L909.6,385.1 L910.8,383.3 L912.3,380.8 L913.8,378.3 L915.3,376.2 L916.8,374.4 L918.3,373.5 L920.0,374.5 L921.8,375.8 L923.1,377.1 L924.5,379.1 L925.8,381.2 L927.0,383.3 L928.3,384.9 L929.5,386.1 L930.8,387.0 L932.0,388.2 L933.3,389.9 L934.5,391.3 L935.8,392.5 L937.0,394.1 L938.3,395.7 L939.5,397.0 L940.8,397.9 L942.0,398.8 L943.3,399.8 L944.5,400.9 L945.8,401.6 L947.0,401.9 L948.2,402.4 L949.4,403.0 L950.6,403.5 L951.8,403.6 L953.2,403.5 L954.5,403.3 L955.9,403.0 L957.3,402.8 L958.6,402.9 L960.0,403.3 L961.2,403.6 L962.5,403.6 L963.8,403.4 L965.0,403.3 L966.2,403.4 L967.5,403.1 L968.8,402.7 L970.0,402.1 L971.2,401.9 L972.5,401.9 L973.8,401.8 L975.0,402.0 L976.2,402.2 L977.5,402.4 L978.8,402.2 L980.0,401.5" stroke="#2aa05e"/>
<path d="M76.0,489.8 L77.2,489.7 L78.4,489.7 L79.6,489.9 L80.8,489.9 L82.0,489.7 L83.2,489.5 L84.5,489.3 L85.7,489.3 L86.9,489.3 L88.1,489.4 L89.3,489.6 L90.5,489.5 L91.7,489.4 L92.9,489.2 L94.1,489.2 L95.3,489.1 L96.5,489.1 L97.7,489.2 L98.9,489.1 L100.2,488.9 L101.4,488.8 L102.6,489.1 L103.8,489.4 L105.0,489.2 L106.2,488.9 L107.4,488.7 L108.6,488.7 L109.8,488.7 L111.0,488.9 L112.2,489.1 L113.4,489.2 L114.6,489.2 L115.8,489.1 L117.1,488.9 L118.3,488.7 L119.5,488.6 L120.7,488.8 L121.9,488.9 L123.1,488.7 L124.3,488.5 L125.5,488.5 L126.7,488.8 L127.9,489.0 L129.1,489.1 L130.3,488.9 L131.5,488.6 L132.8,488.3 L134.0,488.2 L135.2,488.2 L136.4,488.2 L137.6,488.3 L138.8,488.4 L140.0,488.2 L141.2,488.1 L142.4,488.1 L143.6,488.2 L144.8,488.1 L146.0,487.9 L147.2,487.9 L148.5,488.0 L149.7,487.9 L150.9,487.7 L152.1,487.7 L153.3,487.9 L154.5,487.9 L155.7,487.4 L156.9,486.9 L158.1,486.8 L159.3,486.9 L160.5,486.9 L161.7,486.7 L163.0,486.8 L164.2,486.9 L165.4,486.9 L166.6,487.1 L167.8,487.4 L169.0,487.6 L170.2,487.3 L171.4,486.8 L172.6,486.5 L173.8,486.5 L175.0,486.5 L176.2,486.3 L177.4,486.1 L178.7,485.8 L179.9,485.5 L181.1,485.5 L182.3,485.4 L183.5,485.3 L184.7,484.7 L185.9,484.3 L187.1,484.3 L188.3,484.1 L189.5,484.0 L190.7,483.8 L191.9,483.4 L193.2,482.8 L194.4,482.3 L195.6,482.3 L196.8,482.4 L198.0,482.2 L199.2,481.7 L200.4,481.5 L201.6,481.3 L202.8,481.2 L204.0,480.9 L205.2,480.6 L206.4,480.4 L207.7,480.4 L208.9,480.3 L210.1,479.9 L211.3,479.5 L212.5,479.1 L213.7,478.8 L214.9,478.5 L216.1,478.6 L217.3,478.1 L218.6,477.1 L219.8,476.0 L221.0,475.7 L222.2,475.7 L223.4,475.4 L224.6,475.1 L225.8,474.6 L227.1,474.4 L228.3,473.9 L229.6,473.3 L230.8,472.9 L232.1,472.5 L233.3,472.2 L234.6,471.6 L235.8,470.9 L237.1,470.3 L238.3,470.0 L239.6,469.8 L240.8,469.0 L242.1,467.8 L243.3,467.2 L244.6,467.2 L245.8,466.9 L247.1,465.9 L248.3,464.6 L249.6,464.2 L250.8,464.2 L252.1,463.6 L253.3,462.5 L254.6,461.7 L255.8,461.6 L257.1,461.4 L258.3,460.6 L259.6,459.8 L260.9,459.1 L262.1,458.2 L263.4,457.5 L264.6,456.8 L265.9,456.3 L267.1,455.5 L268.4,454.3 L269.6,453.4 L270.9,453.1 L272.2,452.4 L273.4,451.1 L274.7,450.3 L275.9,450.5 L277.2,450.4 L278.5,449.6 L279.7,448.4 L281.0,447.1 L282.3,446.5 L283.5,446.0 L284.8,445.4 L286.1,444.0 L287.3,442.2 L288.6,441.4 L289.8,440.7 L291.1,440.0 L292.3,439.7 L293.6,439.5 L294.8,439.2 L296.1,438.5 L297.3,437.8 L298.5,437.9 L299.8,437.9 L301.0,437.6 L302.2,437.2 L303.5,436.6 L304.7,435.9 L306.0,434.7 L307.2,433.1 L308.5,431.9 L309.8,431.1 L311.0,429.7 L312.3,427.9 L313.6,426.7 L314.9,425.6 L316.2,424.8 L317.5,424.3 L318.7,424.0 L320.0,423.4 L321.3,422.9 L322.6,422.3 L323.8,421.6 L325.1,420.9 L326.3,420.7 L327.6,420.7 L328.8,420.2 L330.1,420.4 L331.3,420.9 L332.6,421.3 L334.0,421.2 L335.4,421.3 L336.7,420.8 L338.0,419.7 L339.4,419.4 L340.6,420.1 L341.9,420.3 L343.1,420.1 L344.4,419.7 L345.6,418.6 L346.9,418.2 L348.1,418.1 L349.4,418.0 L350.6,417.4 L352.0,417.4 L353.4,418.9 L354.8,420.8 L356.1,421.9 L357.4,421.5 L358.8,420.6 L360.1,421.1 L361.4,421.8 L362.8,421.5 L364.1,420.6 L365.4,420.8 L366.6,421.6 L367.9,422.8 L369.1,423.6 L370.3,425.0 L371.6,426.8 L372.8,429.4 L374.0,432.3 L375.3,434.4 L376.5,436.2 L377.7,437.9 L379.0,439.6 L380.2,441.4 L381.4,442.8 L382.6,444.0 L383.8,444.5 L385.1,444.9 L386.3,446.3 L387.5,447.8 L388.7,449.1 L389.9,449.4 L391.1,449.7 L392.3,450.7 L393.6,452.4 L394.8,454.4 L396.0,455.1 L397.2,455.3 L398.5,455.8 L399.7,457.1 L401.0,459.1 L402.3,461.3 L403.5,462.9 L404.8,463.9 L406.1,464.6 L407.4,465.5 L408.6,466.2 L409.9,466.8 L411.2,467.1 L412.4,467.2 L413.7,467.7 L415.0,467.9 L416.2,467.4 L417.5,467.1 L418.8,467.4 L420.0,468.6 L421.3,469.5 L422.6,469.8 L423.8,470.1 L425.1,470.2 L426.4,470.1 L427.6,470.2 L428.9,470.7 L430.2,471.7 L431.5,472.6 L432.7,473.3 L434.0,474.2 L435.3,475.3 L436.6,476.6 L437.9,477.3 L439.1,477.8 L440.4,478.2 L441.7,478.7 L443.0,479.2 L444.2,479.7 L445.5,480.3 L446.8,480.6 L448.0,480.9 L449.3,481.3 L450.6,481.6 L451.9,481.5 L453.1,481.4 L454.4,481.7 L455.6,482.4 L456.9,483.2 L458.1,483.6 L459.3,484.0 L460.6,484.5 L461.8,485.3 L463.0,486.0 L464.3,486.3 L465.5,486.4 L466.7,486.5 L468.0,486.5 L469.2,486.5 L470.4,486.6 L471.6,486.7 L472.8,486.3 L474.1,485.7 L475.3,485.1 L476.5,484.7 L477.7,484.2 L479.0,483.6 L480.3,483.0 L481.6,482.6 L482.9,482.5 L484.3,482.1 L485.6,481.0 L486.9,480.1 L488.2,479.6 L489.4,479.7 L490.6,479.9 L491.8,479.8 L493.1,479.5 L494.3,479.3 L495.5,479.6 L496.7,479.7 L497.9,479.8 L499.1,480.2 L500.3,480.7 L501.6,481.4 L502.8,481.8 L504.0,482.5 L505.2,482.9 L506.5,482.9 L507.7,482.9 L509.0,482.4 L510.2,481.6 L511.5,480.6 L512.7,479.4 L514.0,478.0 L515.2,476.1 L516.4,473.8 L517.7,471.0 L518.9,468.2 L520.2,465.7 L521.4,463.8 L522.6,462.3 L523.9,461.1 L525.1,460.3 L526.4,460.5 L527.6,461.6 L528.9,462.9 L530.1,463.9 L531.4,464.4 L532.6,465.1 L533.9,465.9 L535.1,466.6 L536.4,466.9 L537.6,466.8 L538.9,466.7 L540.2,466.2 L541.5,465.3 L542.8,464.8 L544.1,464.6 L545.4,464.2 L546.7,463.8 L548.0,464.8 L549.2,467.3 L550.5,469.5 L551.8,471.0 L553.1,472.4 L554.4,473.7 L555.7,475.0 L556.9,476.3 L558.2,477.7 L559.5,478.3 L560.7,477.3 L561.9,475.0 L563.1,472.4 L564.3,470.1 L565.5,467.4 L566.7,464.0 L567.9,460.2 L569.1,456.1 L570.3,452.5 L571.5,449.8 L572.7,448.2 L573.9,447.3 L575.1,446.6 L576.4,445.9 L577.6,446.1 L578.9,447.8 L580.1,450.5 L581.4,453.5 L582.6,455.7 L583.9,457.6 L585.1,460.2 L586.4,461.5 L587.6,461.9 L588.8,460.4 L590.1,458.5 L591.3,456.9 L592.5,454.6 L593.7,452.1 L595.0,449.8 L596.2,447.7 L597.4,445.3 L598.6,442.7 L599.9,440.6 L601.1,439.8 L602.4,440.5 L603.7,442.4 L605.0,445.5 L606.3,449.1 L607.6,453.1 L608.9,457.3 L610.2,462.1 L611.5,466.6 L612.8,470.2 L614.1,472.7 L615.4,475.3 L616.8,478.2 L618.1,481.0 L619.5,483.6 L620.8,486.0 L622.2,487.8 L623.5,488.5 L624.7,488.4 L625.9,488.5 L627.1,488.8 L628.3,489.0 L629.5,489.0 L630.7,489.0 L631.9,489.0 L633.1,488.9 L634.3,489.0 L635.5,489.5 L636.7,489.9 L637.9,489.9 L639.1,489.5 L640.3,489.3 L641.5,489.4 L642.7,489.7 L643.9,489.8 L645.1,489.8 L646.3,489.5 L647.5,489.5 L648.7,489.6 L649.9,489.7 L651.1,489.8 L652.3,489.8 L653.5,490.0 L654.7,490.1 L655.9,490.2 L657.1,490.2 L658.3,489.9 L659.5,489.7 L660.7,489.7 L662.0,489.9 L663.2,489.9 L664.4,489.9 L665.6,490.0 L666.8,489.9 L668.0,489.7 L669.2,489.3 L670.4,489.3 L671.6,489.5 L672.8,489.7 L674.0,489.8 L675.2,489.7 L676.4,489.7 L677.6,489.7 L678.8,489.9 L680.0,489.9 L681.2,489.8 L682.4,489.7 L683.6,489.6 L684.8,489.5 L686.0,489.6 L687.2,489.8 L688.4,489.9 L689.6,489.9 L690.8,489.7 L692.0,489.6 L693.2,489.5 L694.4,489.6 L695.6,490.0 L696.8,490.4 L698.0,490.2 L699.2,489.8 L700.4,489.7 L701.6,489.8 L702.8,489.6 L704.0,489.4 L705.2,489.4 L706.5,489.6 L707.7,489.8 L708.9,489.9 L710.1,489.9 L711.3,489.8 L712.5,489.8 L713.7,489.7 L714.9,489.8 L716.1,490.0 L717.3,490.0 L718.5,489.9 L719.7,489.7 L720.9,489.6 L722.1,489.6 L723.3,489.9 L724.5,490.2 L725.7,490.4 L726.9,490.4 L728.1,490.3 L729.3,490.3 L730.5,490.2 L731.7,489.9 L732.9,489.7 L734.1,489.7 L735.3,489.7 L736.5,489.5 L737.7,489.6 L738.9,489.9 L740.1,490.2 L741.3,490.2 L742.5,490.0 L743.7,489.9 L744.9,490.0 L746.1,490.1 L747.3,490.1 L748.5,490.1 L749.8,490.1 L751.0,490.0 L752.2,489.9 L753.4,489.8 L754.6,489.9 L755.8,490.0 L757.0,490.0 L758.2,490.1 L759.4,490.1 L760.6,490.0 L761.8,489.8 L763.0,489.7 L764.2,489.7 L765.4,489.9 L766.6,490.2 L767.8,490.3 L769.0,490.2 L770.2,489.9 L771.4,489.7 L772.6,489.5 L773.8,489.5 L775.0,489.8 L776.2,490.1 L777.5,490.2 L778.7,490.2 L779.9,490.1 L781.1,490.0 L782.3,489.8 L783.5,489.8 L784.7,489.8 L785.9,489.8 L787.1,489.7 L788.4,489.8 L789.6,489.8 L790.8,489.6 L792.0,489.5 L793.2,489.5 L794.4,489.6 L795.6,489.7 L796.8,489.9 L798.0,490.0 L799.2,490.0 L800.5,490.0 L801.7,490.0 L802.9,490.0 L804.1,489.7 L805.3,489.5 L806.5,489.4 L807.7,489.5 L808.9,489.7 L810.1,489.7 L811.4,489.6 L812.6,489.4 L813.8,489.3 L815.0,489.4 L816.2,489.3 L817.4,489.3 L818.6,489.2 L819.8,489.2 L821.0,489.2 L822.3,489.1 L823.5,489.0 L824.7,489.0 L825.9,489.0 L827.1,489.2 L828.3,489.4 L829.5,489.6 L830.7,489.6 L831.9,489.4 L833.2,489.1 L834.4,488.8 L835.6,488.6 L836.8,488.6 L838.0,488.7 L839.2,488.7 L840.4,488.5 L841.6,488.2 L842.8,488.1 L844.1,488.4 L845.3,488.6 L846.5,488.6 L847.7,488.5 L848.9,488.6 L850.1,488.6 L851.3,488.6 L852.5,488.4 L853.7,488.2 L854.9,488.0 L856.2,487.9 L857.4,487.8 L858.6,487.7 L859.8,487.7 L861.0,487.7 L862.2,488.0 L863.4,488.2 L864.6,488.4 L865.8,488.5 L867.1,488.4 L868.3,488.2 L869.5,487.9 L870.7,487.7 L871.9,487.6 L873.1,487.5 L874.3,487.5 L875.5,487.3 L876.7,487.3 L878.0,487.2 L879.2,487.0 L880.4,487.1 L881.6,487.2 L882.8,487.3 L884.1,487.0 L885.5,486.9 L886.8,487.1 L888.1,487.3 L889.5,487.2 L890.8,486.8 L892.1,486.3 L893.5,485.8 L894.8,485.1 L896.1,484.4 L897.5,483.4 L898.8,482.7 L900.0,481.9 L901.2,480.8 L902.4,479.0 L903.6,476.9 L904.8,474.7 L906.0,472.1 L907.2,469.6 L908.4,467.8 L909.6,465.9 L910.8,463.6 L912.3,460.3 L913.8,457.8 L915.3,456.6 L916.8,455.5 L918.3,454.7 L920.0,455.1 L921.8,456.5 L923.1,457.7 L924.5,459.3 L925.8,460.8 L927.0,462.6 L928.3,464.7 L929.5,466.4 L930.8,468.0 L932.0,469.4 L933.3,470.8 L934.5,472.1 L935.8,473.1 L937.0,474.2 L938.3,475.8 L939.5,477.7 L940.8,479.4 L942.0,480.5 L943.3,481.3 L944.5,482.3 L945.8,483.1 L947.0,483.7 L948.2,484.3 L949.4,484.5 L950.6,484.6 L951.8,484.4 L953.2,484.2 L954.5,484.3 L955.9,484.6 L957.3,484.9 L958.6,485.0 L960.0,485.2 L961.2,485.2 L962.5,485.0 L963.8,484.7 L965.0,484.7 L966.2,484.8 L967.5,484.9 L968.8,484.7 L970.0,484.5 L971.2,484.6 L972.5,484.8 L973.8,484.9 L975.0,484.6 L976.2,484.3 L977.5,484.1 L978.8,483.8 L980.0,483.9" stroke="#1a62dc"/>
<path d="M76.0,580.8 L77.2,580.6 L78.4,580.7 L79.7,580.8 L80.9,580.9 L82.1,581.0 L83.3,581.0 L84.6,580.9 L85.8,580.5 L87.0,580.2 L88.2,580.2 L89.5,580.6 L90.7,580.8 L91.9,580.6 L93.1,580.6 L94.4,580.7 L95.6,580.8 L96.8,580.9 L98.0,581.0 L99.3,581.2 L100.5,581.3 L101.7,581.2 L102.9,581.2 L104.1,581.0 L105.4,580.9 L106.6,580.7 L107.8,580.6 L109.0,580.6 L110.3,580.6 L111.5,580.8 L112.7,580.9 L113.9,580.8 L115.2,580.7 L116.4,580.6 L117.6,580.7 L118.8,580.7 L120.1,580.6 L121.3,580.3 L122.5,580.1 L123.7,580.2 L125.0,580.7 L126.2,581.0 L127.4,581.0 L128.6,580.8 L129.8,580.7 L131.0,580.6 L132.2,580.5 L133.4,580.3 L134.6,580.3 L135.8,580.5 L137.0,580.5 L138.2,580.5 L139.4,580.6 L140.6,580.7 L141.8,580.5 L143.0,580.3 L144.2,580.2 L145.4,580.2 L146.6,580.0 L147.8,579.7 L149.0,579.6 L150.2,579.6 L151.4,579.4 L152.6,578.9 L153.9,578.6 L155.1,578.6 L156.3,578.6 L157.5,578.3 L158.7,578.0 L159.9,578.1 L161.1,578.1 L162.3,578.0 L163.5,577.6 L164.7,577.3 L165.9,577.0 L167.1,576.8 L168.3,576.7 L169.5,576.6 L170.7,576.5 L171.9,576.2 L173.1,576.0 L174.3,575.8 L175.5,575.5 L176.7,575.1 L177.9,574.8 L179.1,574.7 L180.3,574.5 L181.5,574.3 L182.7,574.1 L183.9,574.0 L185.1,573.7 L186.3,573.4 L187.5,573.0 L188.8,572.7 L190.0,572.4 L191.2,572.2 L192.4,572.0 L193.6,571.6 L194.8,571.2 L196.0,571.0 L197.2,571.1 L198.4,571.1 L199.6,570.8 L200.8,570.1 L202.0,569.7 L203.3,569.6 L204.5,569.0 L205.7,568.2 L206.9,567.6 L208.1,567.6 L209.3,567.9 L210.5,567.8 L211.8,567.4 L213.0,566.8 L214.3,566.4 L215.5,566.2 L216.8,565.7 L218.0,565.2 L219.3,564.9 L220.6,564.7 L221.8,564.1 L223.1,563.0 L224.3,562.0 L225.6,561.7 L226.8,561.6 L228.1,561.4 L229.3,561.1 L230.6,560.8 L231.9,560.3 L233.1,559.4 L234.4,557.9 L235.7,556.6 L236.9,556.1 L238.2,555.8 L239.4,555.5 L240.7,554.9 L242.0,554.1 L243.2,552.7 L244.5,551.5 L245.8,550.9 L247.0,550.8 L248.3,550.4 L249.5,549.0 L250.8,547.8 L252.1,546.7 L253.3,545.9 L254.6,545.1 L255.8,544.2 L257.1,544.4 L258.3,544.3 L259.6,543.8 L260.9,542.7 L262.1,541.6 L263.4,541.2 L264.6,540.3 L265.9,539.2 L267.1,537.6 L268.4,536.3 L269.6,535.3 L270.9,534.8 L272.2,534.4 L273.4,533.9 L274.7,533.8 L275.9,533.4 L277.2,532.4 L278.5,530.9 L279.7,529.8 L281.0,529.4 L282.3,529.0 L283.5,528.6 L284.8,527.8 L286.1,526.6 L287.3,525.9 L288.6,525.4 L289.8,525.1 L291.1,524.7 L292.4,523.7 L293.6,523.2 L294.9,522.8 L296.1,522.3 L297.4,521.2 L298.6,520.2 L299.9,520.4 L301.1,520.7 L302.4,520.1 L303.7,518.6 L304.9,516.9 L306.2,516.1 L307.4,515.8 L308.7,515.4 L309.9,515.1 L311.2,514.3 L312.5,513.1 L313.7,511.9 L315.0,510.9 L316.2,510.1 L317.5,509.1 L318.8,507.7 L320.0,506.9 L321.3,507.0 L322.6,506.9 L323.8,506.4 L325.1,506.1 L326.3,505.7 L327.6,505.4 L328.8,504.9 L330.1,504.0 L331.3,503.5 L332.6,502.6 L333.9,501.7 L335.1,501.5 L336.4,501.0 L337.7,500.5 L339.0,500.0 L340.3,500.3 L341.6,500.7 L342.8,500.5 L344.1,500.5 L345.4,499.9 L346.6,499.9 L347.9,501.2 L349.1,502.5 L350.5,502.2 L351.8,501.6 L353.1,502.2 L354.3,502.5 L355.6,503.1 L356.8,504.2 L358.1,505.8 L359.3,507.6 L360.5,508.8 L361.8,510.3 L363.0,512.1 L364.2,513.5 L365.4,514.4 L366.6,514.9 L367.8,515.2 L369.0,515.7 L370.2,516.4 L371.4,518.0 L372.6,520.0 L373.9,521.9 L375.1,523.4 L376.3,524.3 L377.7,525.9 L379.2,527.7 L380.6,529.7 L382.1,531.0 L383.5,531.9 L384.7,532.5 L385.9,533.1 L387.1,534.4 L388.4,536.2 L389.6,538.5 L390.8,540.4 L392.0,541.9 L393.2,543.5 L394.4,544.7 L395.6,545.7 L396.8,546.3 L398.0,547.8 L399.2,549.5 L400.4,551.0 L401.6,552.3 L402.9,553.3 L404.1,554.2 L405.4,554.9 L406.7,555.7 L408.0,556.5 L409.2,557.0 L410.5,557.9 L411.8,559.1 L413.0,560.5 L414.3,561.1 L415.5,561.2 L416.7,561.1 L418.0,561.5 L419.2,562.3 L420.4,562.7 L421.6,563.2 L422.9,563.2 L424.2,563.1 L425.5,562.6 L426.7,562.3 L428.0,562.4 L429.3,563.0 L430.6,563.7 L432.0,564.7 L433.4,565.7 L434.7,566.7 L436.1,567.5 L437.4,568.2 L438.6,568.9 L439.9,569.5 L441.2,570.1 L442.5,570.7 L443.7,571.3 L445.0,571.6 L446.3,572.0 L447.5,572.5 L448.8,573.1 L450.1,573.5 L451.4,573.4 L452.7,573.1 L453.9,573.0 L455.2,573.2 L456.5,573.5 L457.8,573.8 L459.1,574.2 L460.4,574.8 L461.7,575.4 L463.0,575.9 L464.3,576.6 L465.6,577.4 L466.9,577.8 L468.2,577.7 L469.5,577.3 L470.8,576.9 L472.0,576.7 L473.3,576.8 L474.6,576.7 L475.9,576.3 L477.2,575.7 L478.4,574.9 L479.7,574.3 L481.0,573.7 L482.2,572.9 L483.5,572.2 L484.8,571.7 L486.1,570.9 L487.3,570.1 L488.6,569.5 L489.8,569.2 L491.0,569.0 L492.2,568.8 L493.5,568.9 L494.7,568.9 L495.9,568.9 L497.2,569.3 L498.5,570.0 L499.8,570.9 L501.0,571.7 L502.3,572.4 L503.6,573.1 L504.9,573.5 L506.2,573.4 L507.5,573.1 L508.8,572.8 L510.1,571.9 L511.4,570.7 L512.7,569.2 L514.0,568.1 L515.2,566.5 L516.5,564.3 L517.7,561.7 L518.9,558.8 L520.2,555.6 L521.4,553.0 L522.6,551.7 L523.9,550.4 L525.1,549.2 L526.4,548.7 L527.6,549.2 L528.9,550.3 L530.1,550.9 L531.4,551.9 L532.6,552.9 L533.9,554.2 L535.1,555.8 L536.4,556.9 L537.6,557.4 L538.9,556.9 L540.2,555.9 L541.5,554.7 L542.8,553.3 L544.1,552.6 L545.4,552.7 L546.6,553.7 L547.9,555.1 L549.1,556.3 L550.4,557.8 L551.6,560.2 L552.9,562.9 L554.1,565.1 L555.4,566.2 L556.6,566.7 L557.9,567.1 L559.1,566.8 L560.4,565.9 L561.6,564.0 L562.9,561.2 L564.1,557.8 L565.4,554.1 L566.6,551.0 L567.9,547.7 L569.1,543.7 L570.4,539.7 L571.6,536.6 L572.9,535.1 L574.1,533.6 L575.4,532.2 L576.6,531.8 L577.8,532.6 L579.0,534.0 L580.3,535.4 L581.5,537.4 L582.7,540.3 L583.9,543.7 L585.2,546.7 L586.4,548.9 L587.6,549.6 L588.8,548.9 L590.1,547.4 L591.3,545.2 L592.5,542.4 L593.7,539.1 L595.0,536.0 L596.2,533.7 L597.4,531.3 L598.6,529.6 L599.9,528.3 L601.1,527.5 L602.4,527.6 L603.6,529.6 L604.9,532.7 L606.2,537.3 L607.4,542.5 L608.7,547.3 L610.0,551.7 L611.2,555.5 L612.5,558.5 L613.7,561.0 L614.9,564.3 L616.2,567.5 L617.4,570.2 L618.6,572.6 L619.8,574.9 L621.1,576.9 L622.3,578.3 L623.5,578.9 L624.7,579.0 L625.9,579.0 L627.1,579.1 L628.3,579.7 L629.5,580.4 L630.7,580.8 L631.9,580.8 L633.1,580.8 L634.3,580.8 L635.5,580.7 L636.7,580.7 L637.9,580.9 L639.1,581.0 L640.3,581.0 L641.5,580.9 L642.7,580.8 L643.9,580.8 L645.1,580.7 L646.3,580.9 L647.5,581.2 L648.7,581.4 L649.9,581.5 L651.1,581.3 L652.3,581.0 L653.5,580.8 L654.7,580.9 L655.9,581.3 L657.1,581.6 L658.3,581.5 L659.5,581.3 L660.7,581.2 L662.0,581.2 L663.2,581.3 L664.4,581.2 L665.6,581.1 L666.8,581.1 L668.0,581.2 L669.2,581.2 L670.4,581.2 L671.6,581.3 L672.8,581.3 L674.0,581.2 L675.2,581.1 L676.4,581.2 L677.6,581.2 L678.8,581.2 L680.0,581.1 L681.2,581.0 L682.4,581.0 L683.6,581.3 L684.8,581.6 L686.0,581.4 L687.2,581.2 L688.4,581.1 L689.6,581.2 L690.8,581.5 L692.0,581.7 L693.2,581.7 L694.4,581.4 L695.6,581.0 L696.8,581.0 L698.0,581.2 L699.2,581.2 L700.4,581.3 L701.6,581.3 L702.8,581.5 L704.0,581.5 L705.2,581.3 L706.5,581.0 L707.7,580.9 L708.9,580.9 L710.1,581.0 L711.3,581.3 L712.5,581.5 L713.7,581.5 L714.9,581.3 L716.1,581.2 L717.3,581.3 L718.5,581.4 L719.7,581.3 L720.9,581.1 L722.1,581.0 L723.3,581.1 L724.5,581.2 L725.7,581.3 L726.9,581.4 L728.1,581.2 L729.3,581.1 L730.5,581.2 L731.7,581.4 L732.9,581.3 L734.1,581.2 L735.3,581.2 L736.5,581.3 L737.7,581.4 L738.9,581.4 L740.1,581.4 L741.3,581.4 L742.5,581.2 L743.7,581.2 L744.9,581.1 L746.1,581.0 L747.3,580.9 L748.5,581.0 L749.8,581.4 L751.0,581.8 L752.2,582.0 L753.4,582.0 L754.6,581.9 L755.8,581.6 L757.0,581.4 L758.2,581.3 L759.4,581.2 L760.6,581.3 L761.8,581.3 L763.0,581.3 L764.2,581.2 L765.4,581.2 L766.6,581.3 L767.8,581.4 L769.0,581.3 L770.2,581.3 L771.4,581.4 L772.6,581.3 L773.8,581.0 L775.0,580.8 L776.2,580.8 L777.5,581.1 L778.7,581.3 L779.9,581.5 L781.1,581.5 L782.3,581.5 L783.5,581.4 L784.7,581.1 L785.9,580.9 L787.1,580.9 L788.4,581.1 L789.6,581.1 L790.8,581.0 L792.0,581.0 L793.2,581.1 L794.4,581.1 L795.6,581.1 L796.8,581.0 L798.0,581.0 L799.3,580.8 L800.5,580.5 L801.7,580.5 L802.9,580.7 L804.1,580.8 L805.3,580.7 L806.5,580.6 L807.7,580.5 L808.9,580.5 L810.2,580.5 L811.4,580.6 L812.6,580.7 L813.8,580.7 L815.0,580.6 L816.2,580.5 L817.4,580.5 L818.6,580.3 L819.8,580.2 L821.0,580.1 L822.3,580.2 L823.5,580.1 L824.7,579.9 L825.9,579.8 L827.1,579.7 L828.3,579.6 L829.5,579.6 L830.7,579.7 L831.9,579.7 L833.2,579.6 L834.4,579.4 L835.6,579.4 L836.8,579.4 L838.0,579.2 L839.2,578.9 L840.4,578.7 L841.6,578.9 L842.8,579.1 L844.1,578.9 L845.3,578.7 L846.5,578.6 L847.7,578.6 L848.9,578.6 L850.1,578.6 L851.3,578.6 L852.5,578.6 L853.7,578.5 L855.0,578.5 L856.2,578.6 L857.4,578.9 L858.6,579.1 L859.8,579.0 L861.0,578.6 L862.2,578.5 L863.4,578.6 L864.6,578.5 L865.9,578.3 L867.1,578.0 L868.3,578.1 L869.5,578.3 L870.7,578.4 L871.9,578.5 L873.1,578.5 L874.3,578.6 L875.5,578.6 L876.7,578.4 L878.0,578.3 L879.2,578.2 L880.4,578.1 L881.6,578.0 L882.8,577.9 L884.1,578.0 L885.5,577.8 L886.8,577.6 L888.1,577.7 L889.5,577.7 L890.8,577.6 L892.1,577.1 L893.5,576.5 L894.8,575.7 L896.1,574.9 L897.5,574.4 L898.8,574.0 L900.0,573.2 L901.2,571.7 L902.4,569.5 L903.6,566.9 L904.8,564.6 L906.0,562.6 L907.2,560.7 L908.4,558.6 L909.6,555.8 L910.8,553.3 L912.3,550.5 L913.8,547.8 L915.3,545.4 L916.8,543.5 L918.3,542.7 L920.0,543.6 L921.8,545.6 L923.1,548.1 L924.5,550.6 L925.8,552.4 L927.0,554.1 L928.3,555.2 L929.5,556.9 L930.8,558.4 L932.0,559.8 L933.3,561.0 L934.5,562.7 L935.8,564.5 L937.0,566.3 L938.3,567.8 L939.5,569.1 L940.8,570.3 L942.0,571.2 L943.3,572.4 L944.5,573.6 L945.8,574.4 L947.0,574.7 L948.2,575.0 L949.4,575.5 L950.6,576.0 L951.8,576.2 L953.2,576.3 L954.5,576.3 L955.9,576.4 L957.3,576.6 L958.6,576.9 L960.0,577.1 L961.2,577.2 L962.5,577.0 L963.8,576.9 L965.0,576.8 L966.2,576.6 L967.5,576.5 L968.8,576.3 L970.0,576.1 L971.2,575.8 L972.5,576.0 L973.8,576.1 L975.0,576.1 L976.2,575.7 L977.5,575.5 L978.8,575.4 L980.0,575.2" stroke="#f0373c"/>
<path d="M76.0,675.0 L77.2,674.8 L78.4,674.9 L79.6,675.2 L80.8,675.3 L82.0,675.3 L83.2,675.3 L84.5,675.4 L85.7,675.4 L86.9,675.5 L88.1,675.6 L89.3,675.4 L90.5,675.1 L91.7,674.7 L92.9,674.5 L94.1,674.6 L95.3,674.9 L96.5,675.2 L97.7,675.3 L98.9,675.2 L100.2,675.3 L101.4,675.2 L102.6,674.9 L103.8,674.7 L105.0,674.5 L106.2,674.7 L107.4,674.9 L108.6,674.9 L109.8,674.8 L111.0,674.8 L112.2,674.9 L113.4,675.1 L114.6,675.1 L115.8,675.1 L117.1,674.8 L118.3,674.5 L119.5,674.3 L120.7,674.6 L121.9,674.9 L123.1,674.9 L124.3,674.8 L125.5,674.8 L126.7,674.9 L127.9,674.9 L129.1,675.0 L130.3,675.2 L131.5,675.1 L132.8,674.9 L134.0,674.6 L135.2,674.5 L136.4,674.6 L137.6,674.8 L138.8,674.9 L140.0,675.0 L141.2,675.2 L142.5,675.0 L143.7,674.6 L145.0,674.3 L146.2,674.3 L147.4,674.2 L148.7,674.1 L149.9,674.0 L151.1,673.9 L152.4,673.8 L153.6,673.6 L154.9,673.1 L156.1,672.7 L157.3,672.3 L158.6,672.2 L159.8,672.1 L161.1,671.8 L162.3,671.5 L163.5,671.2 L164.8,670.9 L166.0,670.7 L167.2,670.2 L168.5,669.8 L169.7,669.4 L171.0,669.3 L172.2,669.4 L173.4,669.4 L174.7,669.1 L175.9,668.6 L177.2,668.3 L178.4,668.2 L179.6,667.7 L180.9,667.4 L182.1,667.1 L183.3,666.6 L184.6,666.3 L185.8,666.0 L187.1,665.9 L188.3,665.9 L189.5,665.6 L190.8,665.5 L192.0,665.3 L193.3,665.1 L194.5,664.7 L195.8,664.3 L197.0,663.9 L198.3,663.7 L199.5,663.8 L200.8,664.0 L202.0,664.0 L203.3,663.5 L204.5,662.8 L205.8,662.6 L207.1,662.8 L208.3,662.5 L209.6,661.6 L210.9,660.8 L212.2,660.6 L213.5,660.5 L214.7,660.0 L216.0,659.8 L217.3,659.8 L218.6,659.6 L219.8,658.6 L221.1,658.0 L222.3,657.9 L223.6,657.8 L224.8,657.2 L226.1,656.5 L227.3,655.7 L228.6,655.1 L229.9,655.1 L231.3,654.8 L232.6,654.0 L234.0,652.8 L235.3,651.7 L236.7,650.8 L237.9,649.8 L239.2,649.0 L240.4,648.2 L241.7,647.1 L242.9,645.8 L244.1,645.1 L245.4,644.4 L246.6,643.9 L247.8,643.1 L249.1,642.1 L250.3,641.4 L251.6,641.1 L252.8,641.1 L254.1,640.6 L255.4,639.4 L256.7,638.4 L258.0,637.2 L259.2,635.8 L260.5,634.6 L261.8,634.2 L263.1,634.2 L264.4,634.1 L265.7,633.0 L267.0,631.4 L268.2,629.9 L269.5,629.1 L270.7,629.3 L272.0,629.0 L273.2,628.0 L274.5,626.5 L275.7,625.0 L277.0,623.8 L278.3,622.3 L279.7,621.6 L281.0,621.3 L282.3,620.8 L283.7,620.0 L285.0,618.0 L286.4,616.3 L287.7,615.2 L289.1,614.3 L290.4,613.3 L291.8,612.4 L293.1,612.5 L294.4,611.6 L295.6,609.4 L296.9,607.4 L298.2,606.5 L299.6,606.7 L300.9,606.9 L302.2,607.6 L303.6,608.2 L304.9,607.6 L306.2,605.3 L307.5,602.8 L308.8,601.0 L310.1,599.3 L311.4,597.6 L312.7,596.5 L313.9,596.6 L315.1,597.3 L316.3,598.3 L318.1,596.6 L319.9,594.3 L321.1,594.2 L322.3,594.5 L323.5,595.3 L324.8,595.6 L326.0,595.6 L327.2,595.3 L328.7,594.2 L330.1,592.9 L331.6,591.6 L333.1,591.2 L334.9,590.8 L336.7,590.1 L338.0,591.8 L339.4,594.3 L341.0,593.9 L342.6,593.1 L344.0,593.3 L345.3,594.1 L346.9,592.5 L348.5,591.5 L349.8,592.5 L351.1,593.4 L352.3,594.1 L353.6,594.8 L355.1,596.0 L356.6,598.2 L358.1,600.1 L359.3,601.4 L360.5,602.4 L361.8,602.5 L363.0,602.1 L364.2,602.3 L365.4,603.1 L366.6,603.8 L367.8,604.8 L369.0,606.4 L370.2,608.7 L371.4,611.2 L372.6,613.2 L373.8,614.6 L375.0,615.9 L376.2,617.6 L377.4,619.3 L378.7,620.6 L379.9,621.8 L381.1,622.9 L382.3,623.5 L383.5,623.8 L384.7,624.4 L385.9,625.7 L387.1,628.0 L388.4,630.2 L389.6,631.8 L390.8,633.4 L392.2,635.5 L393.7,637.3 L395.1,638.4 L396.6,640.3 L398.0,642.3 L399.4,644.7 L400.7,646.4 L402.0,647.5 L403.4,648.4 L404.7,649.1 L405.9,649.8 L407.2,650.8 L408.5,652.3 L409.8,653.4 L411.0,653.9 L412.3,654.3 L413.6,655.3 L414.8,656.3 L416.1,656.2 L417.4,655.8 L418.7,655.9 L420.0,656.3 L421.3,656.4 L422.6,656.3 L423.9,656.2 L425.2,656.1 L426.5,656.3 L427.7,657.2 L429.0,658.4 L430.3,659.2 L431.5,659.5 L432.8,660.1 L434.1,661.1 L435.4,662.2 L436.6,663.1 L437.9,663.7 L439.1,664.4 L440.3,664.7 L441.5,664.7 L442.7,665.1 L444.0,665.8 L445.2,666.6 L446.4,667.1 L447.6,667.6 L448.8,668.3 L450.0,668.9 L451.2,669.2 L452.4,669.4 L453.6,669.6 L454.8,669.9 L456.0,670.3 L457.2,670.6 L458.5,670.8 L459.7,670.9 L460.9,671.0 L462.1,671.2 L463.3,671.4 L464.5,671.5 L465.7,671.3 L466.9,671.2 L468.1,671.4 L469.3,671.8 L470.5,671.9 L471.7,671.7 L472.9,671.6 L474.1,671.7 L475.4,671.9 L476.7,671.5 L478.0,670.9 L479.3,670.3 L480.6,669.7 L481.9,669.1 L483.2,668.3 L484.6,667.1 L485.9,665.8 L487.2,664.8 L488.6,664.4 L489.8,664.1 L491.0,664.1 L492.2,664.3 L493.5,664.1 L494.7,663.7 L495.9,663.5 L497.2,664.0 L498.5,664.7 L499.8,665.6 L501.1,666.8 L502.4,668.2 L503.7,668.9 L505.0,668.8 L506.2,668.2 L507.4,667.8 L508.6,667.6 L509.8,667.4 L511.0,666.6 L512.2,665.8 L513.6,663.9 L515.1,660.5 L516.5,656.8 L518.0,652.9 L519.4,650.0 L520.7,648.0 L522.1,646.2 L523.4,644.7 L524.8,643.3 L526.1,642.2 L527.3,641.9 L528.6,642.3 L529.8,643.6 L531.0,645.3 L532.3,646.7 L533.5,647.2 L534.8,647.3 L536.0,647.7 L537.3,648.3 L538.7,648.4 L540.0,648.0 L541.4,647.3 L542.7,646.9 L544.1,646.2 L545.4,645.8 L546.7,646.5 L548.0,648.1 L549.2,649.9 L550.5,651.5 L551.8,653.0 L553.1,654.7 L554.4,656.8 L555.7,659.0 L556.9,660.8 L558.2,662.0 L559.5,662.3 L560.7,661.5 L561.9,659.7 L563.2,657.4 L564.4,654.5 L565.6,650.9 L566.8,646.9 L568.0,642.8 L569.3,639.1 L570.5,636.0 L571.7,633.2 L572.9,630.1 L574.2,627.1 L575.4,625.4 L576.6,625.6 L577.8,626.7 L579.0,628.6 L580.3,630.9 L581.5,633.4 L582.7,636.0 L583.9,637.7 L585.2,639.2 L586.4,640.1 L587.6,640.5 L588.8,640.7 L590.1,639.8 L591.3,638.1 L592.5,635.2 L593.7,632.1 L595.0,628.7 L596.2,625.1 L597.4,622.4 L598.6,620.6 L599.9,619.8 L601.1,619.3 L602.4,619.8 L603.6,621.7 L604.9,624.3 L606.2,627.5 L607.4,631.6 L608.7,635.9 L610.0,640.4 L611.2,644.9 L612.5,648.5 L613.8,651.6 L615.2,655.0 L616.5,658.9 L617.9,662.9 L619.2,666.1 L620.6,668.4 L621.9,669.8 L623.1,670.4 L624.4,671.2 L625.6,671.9 L626.8,672.3 L628.0,672.4 L629.3,672.6 L630.5,673.1 L631.7,673.6 L633.0,673.8 L634.2,673.8 L635.4,674.1 L636.6,674.3 L637.9,674.4 L639.1,674.5 L640.3,674.7 L641.5,674.9 L642.7,674.9 L643.9,674.6 L645.1,674.5 L646.3,674.6 L647.5,674.9 L648.7,675.2 L649.9,675.1 L651.1,674.9 L652.3,674.8 L653.5,674.8 L654.7,674.8 L655.9,674.9 L657.1,675.0 L658.3,675.0 L659.5,674.8 L660.7,674.5 L662.0,674.3 L663.2,674.2 L664.4,674.5 L665.6,674.8 L666.8,674.9 L668.0,674.8 L669.2,674.6 L670.4,674.7 L671.6,674.5 L672.8,674.4 L674.0,674.6 L675.2,674.9 L676.4,675.0 L677.6,674.8 L678.8,674.7 L680.0,674.6 L681.2,674.6 L682.4,674.6 L683.6,674.6 L684.8,674.6 L686.0,674.6 L687.2,674.7 L688.4,674.7 L689.6,674.5 L690.8,674.3 L692.0,674.4 L693.2,674.6 L694.4,674.6 L695.6,674.3 L696.8,674.2 L698.0,674.5 L699.2,674.7 L700.4,674.5 L701.6,674.2 L702.8,674.4 L704.0,674.8 L705.2,675.0 L706.5,674.8 L707.7,674.7 L708.9,674.6 L710.1,674.7 L711.3,674.8 L712.5,674.7 L713.7,674.8 L714.9,674.8 L716.1,674.7 L717.3,674.4 L718.5,674.2 L719.7,674.2 L720.9,674.5 L722.1,674.6 L723.3,674.4 L724.5,674.4 L725.7,674.7 L726.9,674.9 L728.1,674.9 L729.3,674.7 L730.5,674.6 L731.7,674.5 L732.9,674.4 L734.1,674.4 L735.3,674.3 L736.5,674.2 L737.7,674.0 L738.9,674.0 L740.1,674.2 L741.3,674.5 L742.5,674.4 L743.7,674.3 L744.9,674.3 L746.1,674.2 L747.3,674.2 L748.5,674.2 L749.8,674.4 L751.0,674.6 L752.2,674.6 L753.4,674.4 L754.6,673.9 L755.8,674.0 L757.0,674.4 L758.2,674.8 L759.4,674.6 L760.6,674.2 L761.8,674.0 L763.0,674.1 L764.2,674.3 L765.4,674.4 L766.6,674.3 L767.8,674.1 L769.0,674.1 L770.2,674.2 L771.4,674.3 L772.6,674.5 L773.8,674.7 L775.0,674.7 L776.2,674.4 L777.5,674.2 L778.7,674.1 L779.9,674.1 L781.1,674.2 L782.3,674.5 L783.5,674.6 L784.7,674.7 L785.9,674.7 L787.1,674.6 L788.4,674.4 L789.6,674.3 L790.8,674.4 L792.0,674.5 L793.2,674.4 L794.4,674.2 L795.6,674.0 L796.8,673.8 L798.0,673.9 L799.3,674.1 L800.5,674.3 L801.7,674.1 L802.9,673.8 L804.1,673.7 L805.3,673.9 L806.5,674.1 L807.7,674.2 L808.9,674.2 L810.2,674.2 L811.4,674.3 L812.6,674.4 L813.8,674.4 L815.0,674.3 L816.2,674.3 L817.4,674.3 L818.6,674.1 L819.8,673.9 L821.0,673.7 L822.3,673.7 L823.5,673.9 L824.7,674.2 L825.9,674.5 L827.1,674.7 L828.3,674.9 L829.5,674.9 L830.7,674.7 L831.9,674.4 L833.2,674.1 L834.4,674.0 L835.6,674.0 L836.8,673.9 L838.0,673.8 L839.2,674.0 L840.4,674.1 L841.6,674.0 L842.8,673.9 L844.1,673.8 L845.3,673.7 L846.5,673.8 L847.7,673.7 L848.9,673.7 L850.1,673.5 L851.3,673.3 L852.5,673.2 L853.7,673.2 L855.0,673.4 L856.2,673.6 L857.4,673.8 L858.6,673.8 L859.8,673.7 L861.0,673.7 L862.2,673.6 L863.4,673.6 L864.6,673.6 L865.9,673.6 L867.1,673.6 L868.3,673.5 L869.5,673.4 L870.7,673.1 L871.9,672.9 L873.1,673.0 L874.3,673.3 L875.5,673.6 L876.7,673.4 L878.0,673.0 L879.2,672.8 L880.4,672.9 L881.6,673.2 L882.8,673.1 L884.1,672.8 L885.5,672.6 L886.8,672.6 L888.1,672.6 L889.5,672.4 L890.8,672.0 L892.1,671.4 L893.5,670.6 L894.8,669.8 L896.1,669.0 L897.5,668.4 L898.8,667.6 L900.0,666.4 L901.2,664.4 L902.4,662.0 L903.6,659.9 L904.8,658.0 L906.0,656.1 L907.2,653.7 L908.4,651.2 L909.6,648.7 L910.8,646.5 L912.3,643.9 L913.8,641.5 L915.3,639.6 L916.8,637.9 L918.3,637.3 L920.0,638.2 L921.8,640.3 L923.1,641.9 L924.5,643.4 L925.8,644.8 L927.0,646.2 L928.3,647.9 L929.5,649.8 L930.8,651.7 L932.0,654.0 L933.3,655.8 L934.5,657.1 L935.8,658.5 L937.0,660.3 L938.3,662.2 L939.5,663.8 L940.8,665.1 L942.0,666.1 L943.3,667.1 L944.5,668.1 L945.8,668.7 L947.0,668.9 L948.2,669.3 L949.4,670.0 L950.6,670.8 L951.8,671.3 L953.2,671.4 L954.5,671.2 L955.9,671.2 L957.3,671.5 L958.6,671.7 L960.0,671.5 L961.2,671.2 L962.5,671.2 L963.8,671.4 L965.0,671.6 L966.2,671.6 L967.5,671.3 L968.8,670.8 L970.0,670.5 L971.2,670.4 L972.5,670.3 L973.8,670.0 L975.0,669.7 L976.2,669.6 L977.5,669.5 L978.8,669.7 L980.0,669.6" stroke="#4f4f4f"/>
</g>
<line x1="332.7" y1="35.5" x2="332.7" y2="622.6" stroke="#000" stroke-width="3"/>
<rect x="75.7" y="15.2" width="904.6" height="666" fill="none" stroke="#000" stroke-width="2.2"/>
<g stroke="#000" stroke-width="2.2">
<line x1="75.7" y1="681" x2="75.7" y2="694.0"/>
<line x1="148.7" y1="681" x2="148.7" y2="687.5"/>
<line x1="221.6" y1="681" x2="221.6" y2="694.0"/>
<line x1="294.6" y1="681" x2="294.6" y2="687.5"/>
<line x1="367.6" y1="681" x2="367.6" y2="694.0"/>
<line x1="440.6" y1="681" x2="440.6" y2="687.5"/>
<line x1="513.6" y1="681" x2="513.6" y2="694.0"/>
<line x1="586.5" y1="681" x2="586.5" y2="687.5"/>
<line x1="659.5" y1="681" x2="659.5" y2="694.0"/>
<line x1="732.5" y1="681" x2="732.5" y2="687.5"/>
<line x1="805.5" y1="681" x2="805.5" y2="694.0"/>
<line x1="878.4" y1="681" x2="878.4" y2="687.5"/>
<line x1="951.4" y1="681" x2="951.4" y2="694.0"/>
</g>
<g font-size="44" font-weight="bold" fill="#000">
<text x="75.7" y="0" transform="translate(0,739) scale(1,1.07)" text-anchor="middle">200</text>
<text x="221.6" y="0" transform="translate(0,739) scale(1,1.07)" text-anchor="middle">250</text>
<text x="367.6" y="0" transform="translate(0,739) scale(1,1.07)" text-anchor="middle">300</text>
<text x="513.6" y="0" transform="translate(0,739) scale(1,1.07)" text-anchor="middle">350</text>
<text x="659.5" y="0" transform="translate(0,739) scale(1,1.07)" text-anchor="middle">400</text>
<text x="805.5" y="0" transform="translate(0,739) scale(1,1.07)" text-anchor="middle">450</text>
<text x="951.4" y="0" transform="translate(0,739) scale(1,1.07)" text-anchor="middle">500</text>
</g>
<text x="527" y="787.6" text-anchor="middle" font-size="43.6" font-weight="bold" style="font-kerning:none">Wavelength (nm)</text>
<text transform="translate(44.8,348) rotate(-90)" text-anchor="middle" font-size="44" font-weight="bold">Intensity (a.u.)</text>
<g font-size="41" fill="#000" style="font-kerning:none">
<text x="603.2" y="65.0" font-size="42">250</text>
<text x="676.5" y="48.4" font-size="27">o</text>
<text x="690.1" y="65.0" font-size="42.5">C</text>
<text x="691.8" y="112.9" font-size="42">220</text>
<text x="765.1" y="96.3" font-size="27">o</text>
<text x="778.7" y="112.9" font-size="42.5">C</text>
<text x="706.0" y="168.0" font-size="42">200</text>
<text x="779.3" y="151.4" font-size="27">o</text>
<text x="792.9" y="168.0" font-size="42.5">C</text>
<text x="718.8" y="246.8" font-size="42">170</text>
<text x="792.1" y="230.2" font-size="27">o</text>
<text x="805.7" y="246.8" font-size="42.5">C</text>
<text x="720.0" y="320.5" font-size="42">150</text>
<text x="793.3" y="303.9" font-size="27">o</text>
<text x="806.9" y="320.5" font-size="42.5">C</text>
<text x="721.4" y="398.8" font-size="42">120</text>
<text x="794.7" y="382.2" font-size="27">o</text>
<text x="808.3" y="398.8" font-size="42.5">C</text>
<text x="728.3" y="484.5" font-size="42">100</text>
<text x="801.6" y="467.9" font-size="27">o</text>
<text x="815.2" y="484.5" font-size="42.5">C</text>
<text x="736.0" y="574.6" font-size="42">70</text>
<text x="788.3" y="558.0" font-size="27">o</text>
<text x="801.9" y="574.6" font-size="42.5">C</text>
<text x="743.7" y="669.8" font-size="42">50</text>
<text x="796.0" y="653.2" font-size="27">o</text>
<text x="809.6" y="669.8" font-size="42.5">C</text>
</g>
<g font-size="42"><text x="738.5" y="51.7" font-size="42.5">&#955;</text><text x="760.7" y="62.3" font-size="29">em</text><rect x="805.1" y="34.3" width="21.9" height="2" fill="#000"/><rect x="805.1" y="40" width="21.9" height="2" fill="#000"/><text transform="translate(837.6,51.4) scale(0.965,0.985)" x="0" y="0">547</text><text x="909.4" y="51.4" font-size="41">nm</text></g>
</svg>
</body></html>
